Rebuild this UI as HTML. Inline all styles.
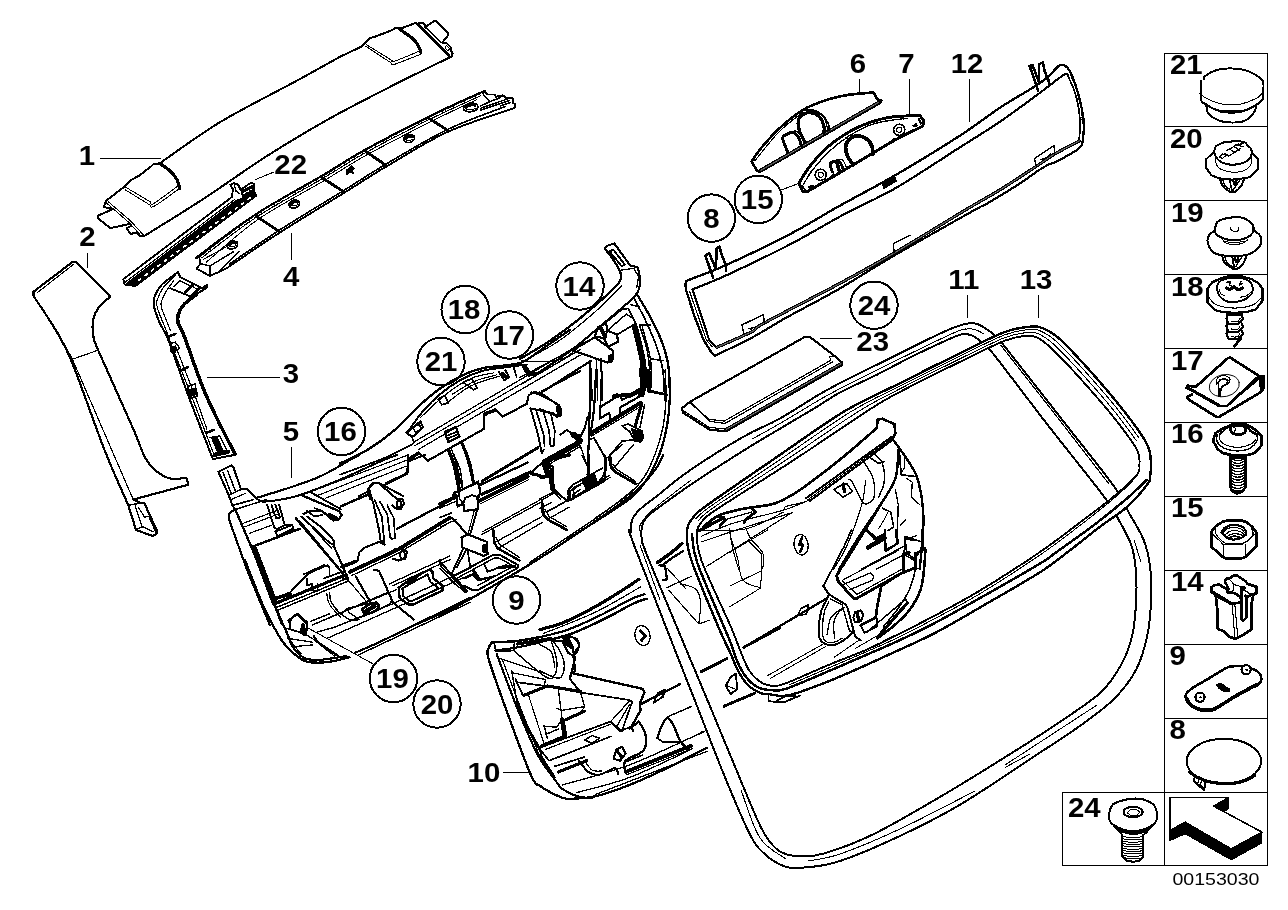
<!DOCTYPE html>
<html><head><meta charset="utf-8"><title>00153030</title>
<style>
html,body{margin:0;padding:0;background:#fff;}
svg{display:block;}
path,line,circle,rect,ellipse,polyline,polygon{stroke-linecap:round;stroke-linejoin:round;}
</style></head>
<body>
<svg width="1288" height="910" viewBox="0 0 1288 910" shape-rendering="crispEdges">
<rect x="0" y="0" width="1288" height="910" fill="#fff" stroke="none"/>
<g id="base">
<g fill="none" stroke="#000" stroke-width="1">
<rect x="1164.5" y="53.5" width="103.0" height="812.0"/>
<line x1="1164.5" y1="126.5" x2="1267.5" y2="126.5"/>
<line x1="1164.5" y1="200.5" x2="1267.5" y2="200.5"/>
<line x1="1164.5" y1="274.5" x2="1267.5" y2="274.5"/>
<line x1="1164.5" y1="348.5" x2="1267.5" y2="348.5"/>
<line x1="1164.5" y1="422.5" x2="1267.5" y2="422.5"/>
<line x1="1164.5" y1="496.5" x2="1267.5" y2="496.5"/>
<line x1="1164.5" y1="570.5" x2="1267.5" y2="570.5"/>
<line x1="1164.5" y1="644.5" x2="1267.5" y2="644.5"/>
<line x1="1164.5" y1="718.5" x2="1267.5" y2="718.5"/>
<line x1="1164.5" y1="792.5" x2="1267.5" y2="792.5"/>
<rect x="1062.5" y="792.5" width="102" height="73"/>
</g>
<g font-family='"Liberation Sans", Arial, Helvetica, sans-serif' fill="#000" opacity="0.999">
<text transform="translate(1170 74.4) scale(1.09 1)" font-size="27" font-weight="bold">21</text>
<text transform="translate(1170 148.2) scale(1.09 1)" font-size="27" font-weight="bold">20</text>
<text transform="translate(1170.9 222.2) scale(1.09 1)" font-size="27" font-weight="bold">19</text>
<text transform="translate(1170.9 296.2) scale(1.09 1)" font-size="27" font-weight="bold">18</text>
<text transform="translate(1170.9 370.2) scale(1.09 1)" font-size="27" font-weight="bold">17</text>
<text transform="translate(1170.9 443.2) scale(1.09 1)" font-size="27" font-weight="bold">16</text>
<text transform="translate(1170.9 517.2) scale(1.09 1)" font-size="27" font-weight="bold">15</text>
<text transform="translate(1170.9 591.2) scale(1.09 1)" font-size="27" font-weight="bold">14</text>
<text transform="translate(1169.5 665.2) scale(1.09 1)" font-size="27" font-weight="bold">9</text>
<text transform="translate(1169.5 739.2) scale(1.09 1)" font-size="27" font-weight="bold">8</text>
<text transform="translate(1068 817.4) scale(1.09 1)" font-size="27" font-weight="bold">24</text>
<text transform="translate(87 165.2) scale(1.09 1)" text-anchor="middle" font-size="27" font-weight="bold">1</text>
<text transform="translate(290.7 173.7) scale(1.09 1)" text-anchor="middle" font-size="27" font-weight="bold">22</text>
<text transform="translate(87.5 246.2) scale(1.09 1)" text-anchor="middle" font-size="27" font-weight="bold">2</text>
<text transform="translate(291.2 286.2) scale(1.09 1)" text-anchor="middle" font-size="27" font-weight="bold">4</text>
<text transform="translate(291 382.7) scale(1.09 1)" text-anchor="middle" font-size="27" font-weight="bold">3</text>
<text transform="translate(291 441.2) scale(1.09 1)" text-anchor="middle" font-size="27" font-weight="bold">5</text>
<text transform="translate(858 72.7) scale(1.09 1)" text-anchor="middle" font-size="27" font-weight="bold">6</text>
<text transform="translate(906.5 72.7) scale(1.09 1)" text-anchor="middle" font-size="27" font-weight="bold">7</text>
<text transform="translate(967.1 72.7) scale(1.09 1)" text-anchor="middle" font-size="27" font-weight="bold">12</text>
<text transform="translate(963.9 288.7) scale(1.09 1)" text-anchor="middle" font-size="27" font-weight="bold">11</text>
<text transform="translate(1036.1 288.7) scale(1.09 1)" text-anchor="middle" font-size="27" font-weight="bold">13</text>
<text transform="translate(872.7 351.2) scale(1.09 1)" text-anchor="middle" font-size="27" font-weight="bold">23</text>
<text transform="translate(483.9 782) scale(1.09 1)" text-anchor="middle" font-size="27" font-weight="bold">10</text>
<text transform="translate(578.9 295.5) scale(1.09 1)" text-anchor="middle" font-size="27" font-weight="bold">14</text>
<text transform="translate(464.1 319) scale(1.09 1)" text-anchor="middle" font-size="27" font-weight="bold">18</text>
<text transform="translate(508.4 344.5) scale(1.09 1)" text-anchor="middle" font-size="27" font-weight="bold">17</text>
<text transform="translate(441 371) scale(1.09 1)" text-anchor="middle" font-size="27" font-weight="bold">21</text>
<text transform="translate(340.4 441) scale(1.09 1)" text-anchor="middle" font-size="27" font-weight="bold">16</text>
<text transform="translate(711.4 227.6) scale(1.09 1)" text-anchor="middle" font-size="27" font-weight="bold">8</text>
<text transform="translate(757.2 208.9) scale(1.09 1)" text-anchor="middle" font-size="27" font-weight="bold">15</text>
<text transform="translate(874 314.7) scale(1.09 1)" text-anchor="middle" font-size="27" font-weight="bold">24</text>
<text transform="translate(516.5 609.5) scale(1.09 1)" text-anchor="middle" font-size="27" font-weight="bold">9</text>
<text transform="translate(392.4 688) scale(1.09 1)" text-anchor="middle" font-size="27" font-weight="bold">19</text>
<text transform="translate(437 713.5) scale(1.09 1)" text-anchor="middle" font-size="27" font-weight="bold">20</text>
<text x="1172.5" y="885" font-size="17.3" textLength="87" lengthAdjust="spacingAndGlyphs">00153030</text>
</g>
<g fill="none" stroke="#000" stroke-width="1.3">
<circle cx="580" cy="286" r="23.7" stroke-width="2"/>
<circle cx="465.2" cy="309.5" r="23.7" stroke-width="2"/>
<circle cx="509.5" cy="335" r="23.7" stroke-width="2"/>
<circle cx="441" cy="361.5" r="23.7" stroke-width="2"/>
<circle cx="341.5" cy="431.5" r="23.7" stroke-width="2"/>
<circle cx="711.4" cy="218.1" r="23.7" stroke-width="2"/>
<circle cx="758.3" cy="199.4" r="23.7" stroke-width="2"/>
<circle cx="874" cy="305.2" r="23.7" stroke-width="2"/>
<circle cx="516.5" cy="600" r="23.7" stroke-width="2"/>
<circle cx="393.5" cy="678.5" r="23.7" stroke-width="2"/>
<circle cx="437" cy="704" r="23.7" stroke-width="2"/>
</g>
<g fill="none" stroke="#000" stroke-width="1">
<line x1="100" y1="158.5" x2="160.5" y2="158.5"/>
<line x1="255.5" y1="179.5" x2="274" y2="172"/>
<line x1="87.5" y1="253" x2="87.5" y2="268"/>
<line x1="291.5" y1="233" x2="291.5" y2="260"/>
<line x1="207" y1="377" x2="280" y2="377"/>
<line x1="291" y1="447" x2="291" y2="478"/>
<line x1="859.5" y1="79" x2="859.5" y2="93"/>
<line x1="909.5" y1="79" x2="909.5" y2="115"/>
<line x1="969.5" y1="79" x2="969.5" y2="122"/>
<line x1="967.5" y1="295" x2="967.5" y2="318"/>
<line x1="1038" y1="295" x2="1038" y2="318"/>
<line x1="820" y1="338" x2="852" y2="338"/>
<line x1="503" y1="772.5" x2="530" y2="772.5"/>
<line x1="781" y1="190" x2="800" y2="183"/>
<line x1="375" y1="665" x2="308" y2="628"/>
</g>
</g>
<g id="p01">
<path d="M159.5 163.5C169.6 156.6 196.8 136.2 219.8 122.3C242.8 108.5 277.4 91.3 297.4 80.4C317.4 69.5 332.9 60.7 340 56.8" fill="none" stroke="#000" stroke-width="2.03"/>
<path d="M144 236.2C154 229.9 183.8 211.7 204.2 198.4C224.6 185.1 245.6 169.6 266.3 156.4C287 143.2 307.7 130.8 328.4 119.2C349.1 107.6 370.5 96.9 390.6 86.6C410.8 76.3 439.5 62.4 449.3 57.6" fill="none" stroke="#000" stroke-width="2.03"/>
<path d="M159.6 163.5L153.4 164.2L150.9 166.6L139.7 175.3L137.2 176.6L129.8 180.9L125.4 185.9L106.8 200.2L105.2 203.3L103.7 207L109.9 208.3L113 208.9L98.1 215.7L97.7 218.2L110.5 228.1L130.4 223.8L131.2 225.9L126.6 228.1L130.4 233.7L136.6 233.1L139.1 235.6L144 236.2" fill="none" stroke="#000" stroke-width="2.03"/>
<path d="M108.6 202L131 221.3L144 235.6" fill="none" stroke="#000" stroke-width="1.01"/>
<path d="M106.8 203.3L129.8 223.2L140.9 235.8" fill="none" stroke="#000" stroke-width="1.01"/>
<path d="M159.6 163.5C161.2 164.7 166.6 167.7 169.5 170.4C172.4 173.1 175.3 176.7 177 179.7C178.7 182.7 179.2 186.9 179.7 188.4" fill="none" stroke="#000" stroke-width="3.19"/>
<path d="M179.7 188.4C175.5 191.3 159.6 203.3 154.6 206C149.6 208.8 150.5 205 149.6 204.8L125.4 189.9" fill="none" stroke="#000" stroke-width="1.01"/>
<path d="M177.2 186.5C173.3 189.3 158.4 200.7 154 203.3C149.6 205.9 151.4 202.5 150.9 202.3L126 187.4" fill="none" stroke="#000" stroke-width="1.01"/>
<path d="M340 56.8L361.8 46.4L370.5 37.7L373.7 37.2L392.2 30.1L394.9 27.9L398.2 27.9L400.9 28.5L415.1 23.1L417.8 23.6L420.5 22.8L424.3 23.6L425.1 26.9L434.6 20.9L436.3 20.9L448.2 32.8L448.2 35L442.3 42.6L446.1 42.6L451 47.5L451 50.8L452.6 53.5L452 56.2L449.3 57.9" fill="none" stroke="#000" stroke-width="2.03"/>
<path d="M417.8 24.1L449.3 56.2" fill="none" stroke="#000" stroke-width="2.9"/>
<path d="M425.1 26.9L441.2 42.6" fill="none" stroke="#000" stroke-width="1.74"/>
<path d="M399.3 29C401.6 30.7 409.7 36 412.9 38.8C416.1 41.6 417.1 43.8 418.3 45.9C419.6 48 420.1 50.4 420.5 51.3" fill="none" stroke="#000" stroke-width="3.19"/>
<path d="M421 51.9L421 54.1C416.6 55.8 399.3 62.8 394.4 64.4C389.5 65.9 392.1 63.5 391.7 63.3L365.6 46.1" fill="none" stroke="#000" stroke-width="1.01"/>
<path d="M419.1 51.3C415 53 398.9 59.8 394.4 61.3C389.9 62.9 392.6 60.7 392.2 60.6L366.7 44.8" fill="none" stroke="#000" stroke-width="1.01"/>
<ellipse cx="447.1" cy="48.1" rx="1.6" ry="2.4" fill="#fff" stroke="#000" stroke-width="1" transform="rotate(-40 447.1 48.1)"/>
</g>
<g id="p02">
<path d="M123.2 279.3L231.9 197L233 189.5L230.3 184.8L234.2 183L238.1 184.8L240.7 189.8L246.6 185.6L250.5 183L253.6 183.6L253.9 191.8L256 194.9L134.8 285L124.8 284.5Z" fill="#fff" stroke="#000" stroke-width="1.89"/>
<path d="M125.5 282L234.2 199.8" fill="none" stroke="#000" stroke-width="1.16"/>
<path d="M127.4 283L236.1 200.7L255.2 194.2L256.3 196L135.6 286.1L125.5 285.2Z" fill="#000" stroke="#000" stroke-width="1.45"/>
<path d="M138.7 280.3L250.5 197.7" fill="none" stroke="#fff" stroke-width="1.7" stroke-dasharray="2.4 5.6" stroke-linecap="butt"/>
<path d="M241.2 191.1L253.6 184.8L253.6 193.4L243.5 198.8Z" fill="#000" stroke="#000" stroke-width="1.45"/>
<path d="M243.5 193.4L251.3 189.5" fill="none" stroke="#fff" stroke-width="1.2" stroke-dasharray="2 2" stroke-linecap="butt"/>
<path d="M234.2 184.8L236.1 191.1L238.9 193.4" fill="none" stroke="#000" stroke-width="1.45"/>
<path d="M484.3 91.9L487.8 94.5L494.4 94.5L496.2 96.9L499.6 95.8L504.4 95.8L506 98L512.6 98L513.1 103.2L515.2 103.8L514.7 108L511.5 109C500.8 112.9 468.2 122.5 447.4 132C426.6 141.6 403.8 156.2 386.7 166.3C369.5 176.4 362.2 181.7 344.4 192.7C326.6 203.8 299.3 220 279.8 232.6C260.2 245.1 235.8 262.1 227 268L219 271.9L209.8 275.9L196.6 268.7L200.6 263.5L199.2 256.9C199.5 256.4 191.1 261.4 200.6 254.2C210 247.1 235.8 227.2 256 214.1C276.2 201 303.7 186.3 322 175.6C340.2 164.8 347.7 159.3 365.5 149.4C383.4 139.6 410 125.8 428.9 116.4C447.8 107.1 469.8 97.3 479.1 93.2C488.3 89.1 483.5 92.1 484.3 91.9Z" fill="#fff" stroke="#000" stroke-width="1.89"/>
<path d="M201.9 256.3C210.9 249.6 236 229.3 256 216.2C276 203.1 303.7 188.4 322 177.7C340.2 166.9 347.7 161.4 365.5 151.5C383.4 141.7 410 127.9 428.9 118.5C447.8 109.2 470.7 99.2 479.1 95.3" fill="none" stroke="#000" stroke-width="3.19"/>
<path d="M201.9 256.3C210.9 249.6 236 229.3 256 216.2C276 203.1 303.7 188.4 322 177.7C340.2 166.9 347.7 161.4 365.5 151.5C383.4 141.7 410 127.9 428.9 118.5C447.8 109.2 470.7 99.2 479.1 95.3" fill="none" stroke="#fff" stroke-width="1.2" stroke-dasharray="1.5 1.5" stroke-linecap="butt"/>
<path d="M206.4 262.1C214.9 255.1 237.9 233.4 257.3 219.9C276.7 206.4 304.6 192.1 322.8 181.4C340.9 170.6 348.5 165.1 366.3 155.2C384.2 145.4 411.3 131.5 429.7 122.2C448 113 468.6 103.5 476.4 99.8" fill="none" stroke="#000" stroke-width="1.01"/>
<path d="M229.6 264C238 258.3 260.6 242.3 279.8 229.9C298.9 217.6 326.6 201.1 344.4 190.1C362.2 179 369.5 173.8 386.7 163.7C403.8 153.6 427.6 139.2 447.4 129.6C467.2 120.1 495.8 110.3 505.5 106.4" fill="none" stroke="#000" stroke-width="1.59"/>
<path d="M256 215.9L279.8 231.8" fill="none" stroke="#000" stroke-width="2.9"/>
<path d="M322 177.7L344.4 192.2" fill="none" stroke="#000" stroke-width="2.9"/>
<path d="M365.5 151.3L386.7 165.8" fill="none" stroke="#000" stroke-width="2.9"/>
<path d="M428.9 118.3L447.4 130.2" fill="none" stroke="#000" stroke-width="2.9"/>
<ellipse cx="232.2" cy="245" rx="5.4" ry="3.8" fill="#fff" stroke="#000" stroke-width="1.7" transform="rotate(-15 232.2 245)"/>
<path d="M227.2 244.5 q4 -6 10 -2.5 l-1.5 2 q-3.5 -1.5 -6 1.5z" fill="#000" stroke="#000" stroke-width="1.2"/>
<path d="M228.2 245.8 q4 2.5 8 -0.5" fill="none" stroke="#000" stroke-width="1"/>
<ellipse cx="294.3" cy="204.1" rx="5.4" ry="3.8" fill="#fff" stroke="#000" stroke-width="1.7" transform="rotate(-15 294.3 204.1)"/>
<path d="M289.3 203.6 q4 -6 10 -2.5 l-1.5 2 q-3.5 -1.5 -6 1.5z" fill="#000" stroke="#000" stroke-width="1.2"/>
<path d="M290.3 204.9 q4 2.5 8 -0.5" fill="none" stroke="#000" stroke-width="1"/>
<ellipse cx="409.1" cy="138.6" rx="5.4" ry="3.8" fill="#fff" stroke="#000" stroke-width="1.7" transform="rotate(-15 409.1 138.6)"/>
<path d="M404.1 138.1 q4 -6 10 -2.5 l-1.5 2 q-3.5 -1.5 -6 1.5z" fill="#000" stroke="#000" stroke-width="1.2"/>
<path d="M405.1 139.4 q4 2.5 8 -0.5" fill="none" stroke="#000" stroke-width="1"/>
<path d="M346.7 169.8 l5 -4 l3 3 l-3 1 l2 4 l-4 -2 l-3 3 l0 -4z" fill="#000" stroke="#000" stroke-width="1"/>
<path d="M482.7 91.8L483.8 95.6L490.3 101.5L480.5 105.9" fill="none" stroke="#000" stroke-width="1.59"/>
<path d="M490.3 101.5L500.1 97.7L502.8 94.8" fill="none" stroke="#000" stroke-width="1.59"/>
<path d="M480.5 108.3L508.8 98.5" fill="none" stroke="#000" stroke-width="1.45"/>
<path d="M481 110L509.3 100.5" fill="none" stroke="#000" stroke-width="1.45"/>
<path d="M510.1 102.6L500.1 106.1" fill="none" stroke="#000" stroke-width="1.45"/>
<ellipse cx="470.7" cy="107.5" rx="7.4" ry="4.2" fill="#fff" stroke="#000" stroke-width="1.7" transform="rotate(-8 470.7 107.5)"/>
<path d="M463.7 107 q5 -6 13 -3 l-1.5 2.2 q-5 -1.5 -9 2z" fill="#000" stroke="#000" stroke-width="1.2"/>
<path d="M465.2 108.5 q5 3 11 -0.5" fill="none" stroke="#000" stroke-width="1"/>
<path d="M200.6 263.5L209.8 266.1L233.6 251.6" fill="none" stroke="#000" stroke-width="1.45"/>
<path d="M209.8 266.1L209.8 275.9" fill="none" stroke="#000" stroke-width="1.45"/>
<path d="M203.2 259.5L229.6 245" fill="none" stroke="#000" stroke-width="1.16"/>
<path d="M219 271.9L238.8 251.6" fill="none" stroke="#000" stroke-width="1.45"/>
</g>
<g id="p03">
<path d="M33.5 296L33.5 291.7L72.8 261.8L76.2 262.2L109.5 295.1L109.5 297.2C107.7 299 101.1 304.4 98.4 308C95.7 311.6 94.2 314.6 93.3 319.1C92.4 323.7 92.4 330 93.3 335.3C94.2 340.6 91.7 335.1 98.4 350.7C105.1 366.3 125.6 411.3 133.4 429.2C141.2 447.1 141.4 451.1 145.4 458.2C149.4 465.3 153.1 468.5 157.4 471.9C161.7 475.3 166.2 477.7 171 478.7C175.8 479.7 183.8 477.9 186.4 477.8L188.4 484.7L133.4 499.5L140.3 502.6L144.5 503.5L156.5 529.9L156.5 534.2L152.2 535.9L136 529.9L128.3 505.2C124.3 495.9 113.7 473.2 104.4 449.7C95.2 426.2 80.9 384.2 72.8 364.3C64.7 344.4 62.2 341.6 55.7 330.2C49.2 318.8 37.2 301.7 33.5 296Z" fill="#fff" stroke="#000" stroke-width="2.17"/>
<path d="M37 292.9L73.7 264.2" fill="none" stroke="#000" stroke-width="1.16"/>
<path d="M56.6 330.2L72 358.3" fill="none" stroke="#000" stroke-width="1.16"/>
<path d="M72 358.3L133.4 500" fill="none" stroke="#000" stroke-width="1.16"/>
<path d="M72.5 359.2L96.7 350.7" fill="none" stroke="#000" stroke-width="1.16"/>
<path d="M128.3 505.2L133.4 504.3L143.7 502.6" fill="none" stroke="#000" stroke-width="1.45"/>
<path d="M136 529.9L142 526.5L153.1 531.6" fill="none" stroke="#000" stroke-width="1.45"/>
<path d="M142 526.5L135.2 506" fill="none" stroke="#000" stroke-width="1.45"/>
<path d="M144.5 517.1L148.8 516.3L154.8 529.9" fill="none" stroke="#000" stroke-width="1.45"/>
<path d="M138.6 507.7L144.5 517.1" fill="none" stroke="#000" stroke-width="1.16"/>
<path d="M177.9 272.1C175.2 274.2 165.4 280.9 161.6 284.9C157.8 288.9 156.1 292.4 154.8 296C153.5 299.6 153.2 301.6 154 306.2C154.8 310.8 157.5 317.6 159.9 323.3C162.3 329 163.8 328.4 168.5 340.4C173.2 352.3 180.7 375.2 188.1 395C195.5 414.8 208.8 448.4 212.9 459.1L235.1 454.8C230.2 444.8 214.5 414.9 206 395C197.5 375.1 188.5 347.2 183.9 335.3C179.3 323.4 179.2 326.7 178.2 323.3C177.2 319.9 177.2 317.7 177.9 314.8C178.6 311.9 180.2 308.8 182.1 306.2C183.9 303.6 184.9 302.5 189 299.4C193.1 296.3 203.9 289.5 206.9 287.5L206.9 284.9L202.6 288.3L180.4 277.2L177.9 272.1Z" fill="#fff" stroke="#000" stroke-width="2.03"/>
<path d="M235.1 454.4C230.2 444.5 214.5 414.9 206 395C197.5 375.1 188.5 347.2 183.9 335.3C179.3 323.4 179.1 326.7 178.2 323.3C177.2 319.9 177.5 317.7 178.2 314.8C178.9 311.9 180.7 308.7 182.5 306.2C184.3 303.7 187.1 301.6 189.3 299.8C191.5 298 194.7 295.9 195.8 295.1" fill="none" stroke="#000" stroke-width="3.48"/>
<path d="M175.3 275.5C173.3 277.5 166.3 283.5 163.4 287.5C160.4 291.4 158.4 296 157.4 299.4C156.4 302.8 155.8 302.5 157.4 308C158.9 313.4 164.5 325.9 166.8 331.9C169 337.8 170.3 341.8 171 343.8" fill="none" stroke="#000" stroke-width="1.16"/>
<path d="M173.6 280.6C172.2 282.6 167.4 289.2 165.4 292.6C163.4 296 162.3 298.6 161.6 301.1C161 303.7 160.2 303.1 161.6 308C163.1 312.8 168.8 326.5 170.2 330.2" fill="none" stroke="#000" stroke-width="1.16"/>
<path d="M171 343.8L192.4 398.4L213.7 453.9" fill="none" stroke="#000" stroke-width="1.16"/>
<path d="M175.3 345.5L196.6 400.1L206.9 429.2" fill="none" stroke="#000" stroke-width="1.16"/>
<path d="M170.2 288.3L191.5 296.8L206.9 287.5" fill="none" stroke="#000" stroke-width="1.74"/>
<path d="M173.6 286.6L179.6 280.6L197.5 289.2L191.5 295.1" fill="none" stroke="#000" stroke-width="1.16"/>
<path d="M185.6 291.7L193.2 284.9" fill="none" stroke="#000" stroke-width="2.9"/>
<path d="M193.2 293.9L199.2 288.3" fill="none" stroke="#000" stroke-width="2.9"/>
<path d="M167.6 337L175.3 333.9" fill="none" stroke="#000" stroke-width="2.61"/>
<path d="M169.3 343.8L175.3 342.1L179.6 348.1L175.3 350.7" fill="none" stroke="#000" stroke-width="1.45"/>
<path d="M170.2 348.1L175.3 346.4L175.3 352.4L171.6 352.7Z" fill="#000" stroke="#000" stroke-width="1.45"/>
<path d="M181.3 370.3L188.1 367.2" fill="none" stroke="#000" stroke-width="2.61"/>
<path d="M187.3 386.5L195 384L197.5 395.9L189.8 398.5Z" fill="none" stroke="#000" stroke-width="1.45"/>
<path d="M189 389.9L195.8 388.2L196.7 394.2L190.3 395.9Z" fill="#000" stroke="#000" stroke-width="1.45"/>
<path d="M206 432.9L213.7 430" fill="none" stroke="#000" stroke-width="2.61"/>
<path d="M209.5 437.7L219.7 436L228.2 453.1L213.7 456.1" fill="none" stroke="#000" stroke-width="1.45"/>
<path d="M212 437.7L218 451.4" fill="none" stroke="#000" stroke-width="2.32"/>
<path d="M214.4 437.7L220.4 451.4" fill="none" stroke="#000" stroke-width="2.32"/>
<path d="M216.8 437.7L222.8 451.4" fill="none" stroke="#000" stroke-width="2.32"/>
<path d="M214.6 454.8L228.2 451.7" fill="none" stroke="#000" stroke-width="4.35"/>
</g>
<g id="p05a">
<path d="M218.4 471.8L231.5 465.3L233.3 467.1L240.8 488.6L246.4 488.6L256.7 498.9" fill="none" stroke="#000" stroke-width="2.03"/>
<path d="M218.4 471.8L228.7 495.2L232.4 505.4L235.2 509.2" fill="none" stroke="#000" stroke-width="2.03"/>
<path d="M223.1 472.7L231.5 494.2" fill="none" stroke="#000" stroke-width="1.45"/>
<path d="M227.7 470.9L235.2 490.5" fill="none" stroke="#000" stroke-width="1.45"/>
<path d="M228.7 495.2L240.8 489.6" fill="none" stroke="#000" stroke-width="1.45"/>
<path d="M232.4 505.4L253 499.8" fill="none" stroke="#000" stroke-width="1.74"/>
<path d="M230.5 499.8L245.5 493.3" fill="none" stroke="#000" stroke-width="1.16"/>
<path d="M235.2 509.2L229.6 512.9L228.7 518.5L247.4 570.8L269.8 625" fill="none" stroke="#000" stroke-width="2.17"/>
<path d="M235.2 509.2L256.7 559.6L281.9 624" fill="none" stroke="#000" stroke-width="2.32"/>
<path d="M254.8 548.4L275.4 602.5" fill="none" stroke="#000" stroke-width="4.64"/>
<path d="M252 549.3L272.6 604.4" fill="none" stroke="#000" stroke-width="1.16"/>
<path d="M257.6 497.6C263.4 495.8 281.4 490.4 292.2 486.8C302.9 483.1 311.8 480.4 322.1 475.5C332.3 470.7 347.6 461.2 353.8 457.8C360 454.4 358.5 455.5 359.4 455" fill="none" stroke="#000" stroke-width="2.17"/>
<path d="M262.3 501.7C264.2 501.5 267.3 501.8 273.5 500.8C279.7 499.7 288.4 498.7 299.6 495.2C310.9 491.6 327.7 484.7 340.7 479.3C353.8 473.8 368.8 466.5 378.1 462.5C387.4 458.4 393.7 456.2 396.8 455" fill="none" stroke="#000" stroke-width="2.03"/>
<path d="M256.7 498.9L262.3 501.7" fill="none" stroke="#000" stroke-width="1.89"/>
<path d="M301.5 495.2L408 455" fill="none" stroke="#000" stroke-width="1.16"/>
<path d="M318.3 495.2L408 459.7" fill="none" stroke="#000" stroke-width="1.16"/>
<path d="M325.8 498L406.1 466.2" fill="none" stroke="#000" stroke-width="1.16"/>
<path d="M408 455L408 471.8L404.2 474.6L385.6 483" fill="none" stroke="#000" stroke-width="1.89"/>
<path d="M408 461.5L424.8 455" fill="none" stroke="#000" stroke-width="1.89"/>
<path d="M243.6 523.2L275.4 511" fill="none" stroke="#000" stroke-width="1.16"/>
<path d="M244.6 526.9L277.2 514.4" fill="none" stroke="#000" stroke-width="1.16"/>
<path d="M249.2 533.4L273.5 524.5" fill="none" stroke="#000" stroke-width="1.16"/>
<path d="M253 546.5L299.6 528.8" fill="none" stroke="#000" stroke-width="2.46"/>
<path d="M340.7 506.4L368.8 494.2" fill="none" stroke="#000" stroke-width="2.46"/>
<path d="M236.1 509.2L266 499.8" fill="none" stroke="#000" stroke-width="1.45"/>
<path d="M267 504.5L274.4 527.8L277.2 528.8L284.7 525L279.1 504.5" fill="none" stroke="#000" stroke-width="1.89"/>
<path d="M271.6 505.4L276.3 518.5L280 517.6L275.4 504.5" fill="none" stroke="#000" stroke-width="1.89"/>
<path d="M275.4 531.6L292.2 525L293.1 528.8L277.2 536.2Z" fill="none" stroke="#000" stroke-width="1.89"/>
<path d="M277.2 528.8L275.4 531.6" fill="none" stroke="#000" stroke-width="1.74"/>
<path d="M284.7 525L292.2 525" fill="none" stroke="#000" stroke-width="1.74"/>
<path d="M301.5 495.2L338.9 511L341.7 514.8L338.9 519.4L333.3 520.4L322.1 511L310.9 511L303.4 513.8" fill="none" stroke="#000" stroke-width="2.32"/>
<path d="M310.9 492.4L340.7 509.2" fill="none" stroke="#000" stroke-width="1.89"/>
<path d="M307.1 511L314.6 516.6L322.1 514.8" fill="none" stroke="#000" stroke-width="1.74"/>
<path d="M314.6 508.2L322.1 511" fill="none" stroke="#000" stroke-width="1.74"/>
<path d="M329.5 514.8L337 518.5" fill="none" stroke="#000" stroke-width="3.62"/>
<path d="M295.9 518.5L340.7 570.8L348.2 580.1" fill="none" stroke="#000" stroke-width="2.46"/>
<path d="M301.5 516.6L329.5 542.8L333.3 544.6L348.2 579.2" fill="none" stroke="#000" stroke-width="2.03"/>
<path d="M299.6 520.4L344.5 574.5" fill="none" stroke="#000" stroke-width="1.16"/>
<path d="M305.3 519.4L331.4 548.4" fill="none" stroke="#000" stroke-width="1.45"/>
<path d="M307.1 516.6L322.1 527.8L331.4 537.2L334.2 541.8L333.3 546.5" fill="none" stroke="#000" stroke-width="1.89"/>
<path d="M348.2 580.1L338.9 576.4" fill="none" stroke="#000" stroke-width="1.89"/>
<path d="M368.8 488.6L372.5 483.9L378.1 482.6L396.8 498.9L402.4 498.9L404.2 503.6L400.5 509.2L394.9 508.2L392.1 505.4" fill="none" stroke="#000" stroke-width="2.03"/>
<path d="M368.8 488.6L373.4 503.6L379 529.7L380.9 542.8L384.6 544.6" fill="none" stroke="#000" stroke-width="2.03"/>
<path d="M374.4 499.8L381.8 516.6L384.6 544.6" fill="none" stroke="#000" stroke-width="1.74"/>
<path d="M380 501.7L387.4 514.8L390.2 537.2" fill="none" stroke="#000" stroke-width="1.74"/>
<path d="M387.4 505.4L394 518.5L394.9 538.1L392.1 539L390.2 537.2" fill="none" stroke="#000" stroke-width="1.74"/>
<ellipse cx="399" cy="503.9" rx="2.4" ry="3.4" fill="#fff" stroke="#000" stroke-width="1.8"/>
<path d="M340.7 567.1L357.5 560.5L359.4 552.1L365 547.5L381.8 540.9" fill="none" stroke="#000" stroke-width="2.03"/>
<path d="M396.8 528.8L450 500.8" fill="none" stroke="#000" stroke-width="2.32"/>
<path d="M343.5 566.1L355.7 561.5" fill="none" stroke="#000" stroke-width="3.62"/>
<path d="M275.4 598.8L290.3 592.3L297.8 583.9L303.4 578.3L307.1 574.5L322.1 567.1L327.7 565.2" fill="none" stroke="#000" stroke-width="2.03"/>
<path d="M303.4 574.5L323.9 565.2L329.5 567.1L329.5 576.4L323.9 578.3" fill="none" stroke="#000" stroke-width="1.74"/>
<path d="M307.1 585.7L311.8 583.9L311.8 590.4L317.4 591.3L317.4 583.9" fill="none" stroke="#000" stroke-width="1.74"/>
<path d="M307.1 578.3L307.1 585.7" fill="none" stroke="#000" stroke-width="1.74"/>
<path d="M329.5 576.4L344.5 570.8" fill="none" stroke="#000" stroke-width="1.74"/>
<path d="M273.5 598.8L290.3 594.1" fill="none" stroke="#000" stroke-width="3.62"/>
<path d="M275.4 603.5L346.3 574.5" fill="none" stroke="#000" stroke-width="3.19"/>
<path d="M277.2 607.2L347.3 578.3" fill="none" stroke="#000" stroke-width="1.45"/>
<path d="M278.2 610L348.2 581.1" fill="none" stroke="#000" stroke-width="1.45"/>
<path d="M350.1 571.7L396.8 550.3L450 517.6" fill="none" stroke="#000" stroke-width="3.77"/>
<path d="M351.9 575.5L396.8 554L450 522.2" fill="none" stroke="#000" stroke-width="1.3"/>
<path d="M353.8 568.9L394.9 549.3" fill="none" stroke="#000" stroke-width="1.16"/>
<path d="M387.4 555.9L394.9 549.3L402.4 548.4L407 552.1L405.2 558.7L398.6 560.5L393 558.7" fill="none" stroke="#000" stroke-width="2.03"/>
<ellipse cx="402.4" cy="554.9" rx="2.6" ry="3.6" fill="#fff" stroke="#000" stroke-width="1.6"/>
<path d="M329.5 592.3C329.8 594 329.5 599 331.4 602.5C333.3 606.1 337.3 610.8 340.7 613.8C344.2 616.7 348.8 619.4 351.9 620.3C355.1 621.2 358.2 619.5 359.4 619.4" fill="none" stroke="#000" stroke-width="1.45"/>
<path d="M326.7 593.2C327.2 595.1 327.2 600.4 329.5 604.4C331.9 608.5 338.9 615.3 340.7 617.5" fill="none" stroke="#000" stroke-width="1.16"/>
<path d="M374.4 569.9L379 570.8L393 602.5L413.6 619.4" fill="none" stroke="#000" stroke-width="2.17"/>
<path d="M355.7 576.4L370.6 602.5" fill="none" stroke="#000" stroke-width="2.17"/>
<path d="M348.2 580.1L368.8 604.4" fill="none" stroke="#000" stroke-width="1.16"/>
<path d="M340.7 613.8L348.2 608.2L372.5 602.5" fill="none" stroke="#000" stroke-width="1.74"/>
<path d="M351.9 620.3L374.4 611.9L389.3 604.4L392.1 600.7" fill="none" stroke="#000" stroke-width="1.89"/>
<path d="M348.2 611.9L359.4 619.4" fill="none" stroke="#000" stroke-width="1.45"/>
<path d="M362.2 609.1L368.8 604.4L376.2 602.5L379 605.4L377.2 610L368.8 613.8L364.1 613.8Z" fill="none" stroke="#000" stroke-width="2.61"/>
<path d="M366 611L374.4 606.3" fill="none" stroke="#000" stroke-width="4.35"/>
<path d="M398.6 587.6L408 581.1L428.5 569.9L432.3 570.8L433.2 578.3L442.5 585.7L442.5 590.4L413.6 604.4L408 604.4L399.6 597.9Z" fill="none" stroke="#000" stroke-width="2.32"/>
<path d="M402.4 588.5L409.8 583.9L427.6 574.5L430.4 582L438.8 588.5L412.6 600.7L408.9 600.7L403.3 596Z" fill="none" stroke="#000" stroke-width="2.03"/>
<path d="M408 582L415.4 577.3" fill="none" stroke="#000" stroke-width="4.35"/>
<path d="M417.3 624L450 610" fill="none" stroke="#000" stroke-width="1.89"/>
<path d="M393 585.7L450 559.6" fill="none" stroke="#000" stroke-width="1.3"/>
<path d="M389.3 583.9L450 555.9" fill="none" stroke="#000" stroke-width="1.3"/>
<path d="M314.6 624L396.8 589.5" fill="none" stroke="#000" stroke-width="1.45"/>
<path d="M310.9 621.2L329.5 613.8" fill="none" stroke="#000" stroke-width="1.45"/>
<path d="M439.7 559.6C440 560.8 439.9 564.6 441.6 567.1C443.3 569.6 448.6 573.3 450 574.5" fill="none" stroke="#000" stroke-width="1.74"/>
<path d="M290.3 624L288.4 620.3L297.8 613.8L307.1 624" fill="none" stroke="#000" stroke-width="2.03"/>
</g>
<g id="p05b">
<path d="M440 616C454.6 607.6 500.4 582.4 527.8 565.6C555.2 548.8 586.3 527.6 604.4 515.1C622.4 502.7 627.7 498.3 636.1 490.9C644.5 483.4 650.3 476.3 654.8 470.3C659.3 464.3 661.8 457.6 663.2 455" fill="none" stroke="#000" stroke-width="2.32"/>
<path d="M529.6 562.4C542.1 554.1 586.9 524.6 604.4 512.3C621.8 500.1 629.3 492.9 634.2 489" fill="none" stroke="#000" stroke-width="1.45"/>
<path d="M480.2 484.9L527.8 462.5" fill="none" stroke="#000" stroke-width="2.32"/>
<path d="M479.2 500.8L527.8 476.5" fill="none" stroke="#000" stroke-width="3.77"/>
<path d="M480.2 503.9L528.7 479.7" fill="none" stroke="#000" stroke-width="1.16"/>
<path d="M440 503.9L456.8 496.5" fill="none" stroke="#000" stroke-width="3.77"/>
<path d="M440 508.2L456.8 500.8" fill="none" stroke="#000" stroke-width="1.3"/>
<path d="M440 517.6L451.2 512.9" fill="none" stroke="#000" stroke-width="1.74"/>
<path d="M440 526.9L456.8 519.4" fill="none" stroke="#000" stroke-width="1.3"/>
<path d="M450.3 455C451.4 457.5 455.3 464 456.8 469.9C458.4 475.9 459.1 487.1 459.6 490.5" fill="none" stroke="#000" stroke-width="2.32"/>
<path d="M454 455C455 457.5 458.7 464.3 460.2 469.9C461.6 475.5 462.4 485.5 462.8 488.6" fill="none" stroke="#000" stroke-width="1.45"/>
<path d="M466.1 455C466.8 457.2 468.8 463.7 469.9 468.1C471 472.4 472.2 479 472.7 481.1" fill="none" stroke="#000" stroke-width="2.32"/>
<path d="M454.9 492.4L458.7 491.4L476.4 483L479.2 484.9L480.2 494.2L477.4 497L478.3 509.2L464.3 511L463.3 503.6L457.7 506.4L456.8 499.8Z" fill="none" stroke="#000" stroke-width="2.17"/>
<path d="M463.3 503.6L465.2 498L471.8 495.2L477.4 497" fill="none" stroke="#000" stroke-width="1.74"/>
<path d="M458.7 491.4L459.6 498.9L463.3 503.6" fill="none" stroke="#000" stroke-width="1.45"/>
<path d="M452.1 517.6L468 535.3" fill="none" stroke="#000" stroke-width="2.17"/>
<path d="M477.4 509.2L469.9 535.3" fill="none" stroke="#000" stroke-width="1.89"/>
<path d="M474.6 509.2L468 534.4" fill="none" stroke="#000" stroke-width="1.16"/>
<path d="M461.5 537.2L468 534.4L486.7 541.8L487.6 554L483.9 555.9L462.4 547.5Z" fill="none" stroke="#000" stroke-width="2.17"/>
<ellipse cx="484.8" cy="548.4" rx="2.2" ry="3.8" fill="#000" stroke="#000" stroke-width="1.6"/>
<path d="M463.3 548.4L452.1 572.7" fill="none" stroke="#000" stroke-width="1.89"/>
<path d="M466.1 550.3L456.8 567.1" fill="none" stroke="#000" stroke-width="1.74"/>
<path d="M468 552.1L469.9 565.2" fill="none" stroke="#000" stroke-width="1.74"/>
<path d="M453.1 576.4L493.2 554.9L499.8 554.9L518.4 565.2L517.5 568L477.4 590.4L471.8 589.8L464.3 585.7" fill="none" stroke="#000" stroke-width="2.03"/>
<path d="M456.8 578.3L494.2 558.1L498.8 558.1L513.8 566.1L477.4 585.7" fill="none" stroke="#000" stroke-width="1.45"/>
<path d="M440 561.5L453.1 576.4L465.2 592.3" fill="none" stroke="#000" stroke-width="2.03"/>
<path d="M440 568.9L454.9 583.9L464.3 591.3" fill="none" stroke="#000" stroke-width="1.45"/>
<path d="M451.2 574.5L466.1 591.3" fill="none" stroke="#000" stroke-width="3.48"/>
<path d="M464.3 578.3L472.7 574.5L478.3 580.1L494.2 576.4" fill="none" stroke="#000" stroke-width="2.32"/>
<path d="M484.8 565.2L487.6 571.7L505.4 565.2L514.7 567.1" fill="none" stroke="#000" stroke-width="1.89"/>
<path d="M473.6 570.8L479.2 579.2" fill="none" stroke="#000" stroke-width="3.19"/>
<path d="M497.9 568L514.7 566.1" fill="none" stroke="#000" stroke-width="2.9"/>
<path d="M493.2 528.8L494.2 542.8L497.9 548.4L519.4 560.5" fill="none" stroke="#000" stroke-width="2.46"/>
<path d="M496 537.2L499.8 544.6L519.4 557.4" fill="none" stroke="#000" stroke-width="1.3"/>
<path d="M541.8 499.8L542.7 512.9L547.4 519.4L567 529.7" fill="none" stroke="#000" stroke-width="2.46"/>
<path d="M544.6 509.2L549.3 516.6L567 526.9" fill="none" stroke="#000" stroke-width="1.3"/>
<path d="M609 456.9L610.9 466.2L615.6 471.8L635.2 483.9" fill="none" stroke="#000" stroke-width="2.46"/>
<path d="M612.8 464.3L617.4 469.9L635.2 481.1" fill="none" stroke="#000" stroke-width="1.3"/>
<path d="M482 534.4L541.8 501.7" fill="none" stroke="#000" stroke-width="1.3"/>
<path d="M494.2 542.8L541.8 516.6" fill="none" stroke="#000" stroke-width="1.3"/>
<path d="M497.9 548.4L542.7 522.2" fill="none" stroke="#000" stroke-width="1.3"/>
<path d="M541.8 499.8L555.8 492.4" fill="none" stroke="#000" stroke-width="1.3"/>
<path d="M547.4 511L570.7 498.9" fill="none" stroke="#000" stroke-width="1.3"/>
<path d="M547.4 519.4L568.9 507.3" fill="none" stroke="#000" stroke-width="1.3"/>
<path d="M483 531.6L541.8 498.9" fill="none" stroke="#000" stroke-width="1.3"/>
<path d="M570.7 498.9L609 475.5" fill="none" stroke="#000" stroke-width="1.3"/>
<path d="M604.4 481.1L610 477.4" fill="none" stroke="#000" stroke-width="1.3"/>
<path d="M530.6 472.7L543.7 461.5L550.2 464.3L552.1 488.6L567 500.8L570.7 499.8L604.4 481.1L605.3 473.7L606.2 458.7L604.4 455" fill="none" stroke="#000" stroke-width="2.03"/>
<path d="M543.7 461.5L547.4 477.4L530.6 472.7" fill="none" stroke="#000" stroke-width="2.17"/>
<path d="M544.6 466.2L548.3 475.5" fill="none" stroke="#000" stroke-width="4.35"/>
<path d="M552.1 465.3L554.3 488.6" fill="none" stroke="#000" stroke-width="1.3"/>
<path d="M568.9 499.8L567.9 490.5L572.6 484.9L589.4 475.5L602.5 468.1" fill="none" stroke="#000" stroke-width="1.74"/>
<path d="M570.7 498.9L570.7 491.4L574.5 487.1L589.4 479.3" fill="none" stroke="#000" stroke-width="1.3"/>
<path d="M544.6 460.6L568.9 455" fill="none" stroke="#000" stroke-width="3.77"/>
<path d="M589.4 455L589.4 473.7" fill="none" stroke="#000" stroke-width="1.89"/>
<path d="M581.9 455L587.5 466.2" fill="none" stroke="#000" stroke-width="1.16"/>
<path d="M604.4 455L605.3 473.7" fill="none" stroke="#000" stroke-width="1.74"/>
</g>
<g id="p05c">
<path d="M244.9 560C248.1 567.8 257.7 593.6 263.6 606.7C269.5 619.8 275.8 631 280.4 638.4C285.1 645.9 287.6 647.8 291.6 651.5C295.7 655.3 300.4 659 304.7 660.9C309.1 662.7 312.8 662.7 317.8 662.7C322.8 662.7 329.3 661.8 334.6 660.9C339.9 659.9 347 657.7 349.5 657.1" fill="none" stroke="#000" stroke-width="2.32"/>
<path d="M258 560C260.8 567.5 270.2 593 274.8 604.8C279.5 616.7 282.9 623.8 286 631C289.1 638.1 290.4 643.3 293.5 647.8C296.6 652.3 300.4 656 304.7 658.1C309.1 660.1 312.8 660.2 319.6 659.9C326.5 659.6 341.4 656.8 345.8 656.2" fill="none" stroke="#000" stroke-width="2.17"/>
<path d="M286 629.1C287 631.3 289.1 638.1 291.6 642.2C294.1 646.2 299.4 651.5 301 653.4" fill="none" stroke="#000" stroke-width="1.3"/>
<path d="M355.1 652.8L379.4 642.2L470 597.9" fill="none" stroke="#000" stroke-width="2.17"/>
<path d="M358.9 654.7L470 602.4" fill="none" stroke="#000" stroke-width="1.45"/>
<path d="M312.2 625L388.8 591.8" fill="none" stroke="#000" stroke-width="1.3"/>
<path d="M317.8 631.9L334.6 627.2L392.5 603.9L470 568.4" fill="none" stroke="#000" stroke-width="1.45"/>
<path d="M327.1 638.4L398.1 606.7L470 574.9" fill="none" stroke="#000" stroke-width="1.3"/>
<path d="M289.8 621.6L293.5 616L297.2 614.2L307.5 622.6L306.6 631L303.8 634.7L301 632.8L301.9 625.4" fill="none" stroke="#000" stroke-width="2.03"/>
<path d="M289.8 621.6L289.8 629.1L301.9 632.8" fill="none" stroke="#000" stroke-width="1.74"/>
<path d="M297.2 614.2L303.8 621.6" fill="none" stroke="#000" stroke-width="1.74"/>
<path d="M302.8 625.4L304.7 633.8" fill="none" stroke="#000" stroke-width="4.35"/>
<path d="M314 636.6L317.8 642.2L337.4 655.3" fill="none" stroke="#000" stroke-width="2.46"/>
<path d="M312.2 638.4L334.6 656.2" fill="none" stroke="#000" stroke-width="1.16"/>
<path d="M286 628.2L304.7 633.8L312.2 638.4" fill="none" stroke="#000" stroke-width="1.45"/>
<path d="M287.9 638.4L312.2 642.2" fill="none" stroke="#000" stroke-width="1.3"/>
<path d="M291.6 646.8L312.2 645" fill="none" stroke="#000" stroke-width="1.3"/>
<path d="M340 463.5C344.7 461.2 358.7 455.3 368 449.5C377.4 443.8 387.3 436.5 396 429C404.7 421.5 412.8 411.6 420.3 404.7C427.8 397.9 434 392.7 440.9 387.9C447.7 383.1 454.6 379 461.4 375.8C468.2 372.5 474.8 370 481.9 368.3C489.1 366.6 497.5 366.6 504.4 365.5C511.2 364.4 516.2 364.9 523 361.8C529.9 358.6 537.7 352.1 545.4 346.8C553.2 341.5 565.7 332.8 569.7 330" fill="none" stroke="#000" stroke-width="2.32"/>
<path d="M340 474.7C347.8 471.8 374.6 462.1 386.7 457C398.8 451.9 408.5 446.1 412.8 443.9" fill="none" stroke="#000" stroke-width="1.74"/>
<path d="M413.8 442.1L528.6 374.8L580 344" fill="none" stroke="#000" stroke-width="1.3"/>
<path d="M418.4 449.5L580 355.2" fill="none" stroke="#000" stroke-width="1.3"/>
<path d="M414.7 445.8L580 349.6" fill="none" stroke="#000" stroke-width="1.16"/>
<path d="M407.2 432.7C409.7 429.3 416.6 418.7 422.2 412.2C427.8 405.6 434.3 398.9 440.9 393.5C447.4 388.1 454.6 383.2 461.4 379.5C468.2 375.8 474.8 373.1 481.9 371.1C489.1 369.1 496.9 368.4 504.4 367.4C511.8 366.3 523 365 526.8 364.6" fill="none" stroke="#000" stroke-width="2.03"/>
<path d="M420.3 417.8C424.4 414 436.2 401.9 444.6 395.4C453 388.8 462.6 382.3 470.7 378.6C478.8 374.8 489.4 373.9 493.2 373" fill="none" stroke="#000" stroke-width="1.16"/>
<path d="M444.6 404.7C448.9 401.6 461.4 390.9 470.7 386C480.1 381.2 495.6 377.5 500.6 375.8" fill="none" stroke="#000" stroke-width="1.16"/>
<path d="M452.1 394.4C455.8 392.3 467 384.6 474.5 381.4C481.9 378.1 493.2 375.9 496.9 374.8" fill="none" stroke="#000" stroke-width="1.16"/>
<path d="M438.1 399.1L444.6 395.4L448.3 402.8L441.8 404.7Z" fill="none" stroke="#000" stroke-width="1.74"/>
<path d="M463.3 382.3L471.7 378.6L477.3 387.9L473.5 389.8Z" fill="none" stroke="#000" stroke-width="1.74"/>
<path d="M498.8 372L504.4 380.4L509 376.7L505.3 370.2" fill="none" stroke="#000" stroke-width="2.03"/>
<path d="M513.7 367.4L516.5 376.7" fill="none" stroke="#000" stroke-width="1.74"/>
<path d="M524.9 366.4L528.6 374.8L535.2 373.9" fill="none" stroke="#000" stroke-width="3.77"/>
<path d="M502.5 373.9L507.2 377.6" fill="none" stroke="#000" stroke-width="3.62"/>
<path d="M406.3 432.7L420.3 421.5L423.1 427.1L414.7 435.5L411.9 436.5Z" fill="none" stroke="#000" stroke-width="2.17"/>
<path d="M412.8 427.1L419.4 424.3L421.2 429L415.6 432.7Z" fill="none" stroke="#000" stroke-width="1.74"/>
<path d="M411.9 436.5L413.8 442.1" fill="none" stroke="#000" stroke-width="1.74"/>
<path d="M384.8 485L407.2 473.8L408.2 460.7L418.4 452.3L427.8 460.7L483.8 429L483.8 415.9L495 409.4L502.5 416.8L526.8 403.8" fill="none" stroke="#000" stroke-width="2.17"/>
<path d="M541.7 391.6L580 371.1" fill="none" stroke="#000" stroke-width="2.17"/>
<path d="M409.1 458.9L418.4 453.3" fill="none" stroke="#000" stroke-width="3.48"/>
<path d="M484.7 414L495 410.3" fill="none" stroke="#000" stroke-width="3.48"/>
<path d="M444.6 431.8L455.8 427.1L459.5 436.5L448.3 442.1Z" fill="none" stroke="#000" stroke-width="2.17"/>
<path d="M447.4 435.5L456.7 431.8" fill="none" stroke="#000" stroke-width="1.74"/>
<path d="M448.3 438.3L457.7 434.2" fill="none" stroke="#000" stroke-width="1.74"/>
<path d="M448.3 449.5C449.3 452 452.1 457.6 453.9 464.5C455.8 471.3 458.6 486.3 459.5 490.6" fill="none" stroke="#000" stroke-width="3.48"/>
<path d="M451.1 448.6C452.1 451.2 454.9 457.8 456.7 464.5C458.6 471.2 461.4 484.7 462.3 488.8" fill="none" stroke="#000" stroke-width="1.3"/>
<path d="M461.4 442.1C462.6 445.2 466.8 453.9 468.9 460.7C470.9 467.6 472.8 479.4 473.5 483.2" fill="none" stroke="#000" stroke-width="3.19"/>
<path d="M452.1 499L453.9 492.5L459.5 490.6L473.5 484.1L478.2 481.3L480.1 492.5L478.2 499" fill="none" stroke="#000" stroke-width="2.03"/>
<path d="M526.8 403.8L528.6 395.4L535.2 391.6L558.5 404.7L561.3 409.4L560.4 415L556.7 416.8L552.9 413.1L530.5 408.4" fill="none" stroke="#000" stroke-width="2.03"/>
<path d="M530.5 408.4L538 434.6L541.7 453.3L543.6 449.5" fill="none" stroke="#000" stroke-width="1.89"/>
<path d="M536.1 410.3L543.6 434.6L544.5 445.8" fill="none" stroke="#000" stroke-width="1.74"/>
<path d="M543.6 412.2L549.2 430.9L550.1 443.9" fill="none" stroke="#000" stroke-width="1.74"/>
<path d="M551.1 415L554.8 430.9L553.9 445.8L551.1 446.7L550.1 443.9" fill="none" stroke="#000" stroke-width="1.74"/>
<path d="M481.9 481.3L538 447.7" fill="none" stroke="#000" stroke-width="2.9"/>
<path d="M545.4 462.6L580 442.1" fill="none" stroke="#000" stroke-width="4.64"/>
<path d="M481.9 494.4L530.5 471.9" fill="none" stroke="#000" stroke-width="3.19"/>
<path d="M545.4 466.3L580 446.7" fill="none" stroke="#000" stroke-width="1.3"/>
<path d="M530.5 473.8L541.7 462.6L547.3 477.5L532.4 474.7Z" fill="none" stroke="#000" stroke-width="1.74"/>
<path d="M547.3 460.7L551.1 488.8L560.4 499" fill="none" stroke="#000" stroke-width="1.89"/>
<path d="M560.4 434.6L566.9 429.9L573.5 434.6L580 434.6" fill="none" stroke="#000" stroke-width="2.03"/>
<path d="M573.5 434.6L580 440.2" fill="none" stroke="#000" stroke-width="5.8"/>
<path d="M368 488.8L372.7 483.2L379.2 483.2L403.5 496.2" fill="none" stroke="#000" stroke-width="2.03"/>
<path d="M358.7 496.2L369.9 490.6" fill="none" stroke="#000" stroke-width="2.03"/>
<path d="M368 488.8L369.9 499" fill="none" stroke="#000" stroke-width="1.89"/>
<path d="M569.7 499L570.7 490.6L580 485" fill="none" stroke="#000" stroke-width="1.74"/>
<path d="M573.5 499L574.4 493.4L580 489.7" fill="none" stroke="#000" stroke-width="1.74"/>
</g>
<g id="p05d">
<path d="M520 358.8C524.7 356 538.7 348.3 548 342C557.3 335.8 567.3 328.3 576 321.5C584.7 314.6 593.4 307 600.3 301C607.1 294.9 613.7 288.8 617.1 285.1C620.5 281.3 620.4 280.9 620.8 278.5C621.3 276.2 621.1 274.2 619.9 271.1C618.7 268 615.9 263.6 613.4 259.9C610.9 256.1 606.4 250.5 605 248.7" fill="none" stroke="#000" stroke-width="2.32"/>
<path d="M605 248.7L606.8 245.9L614.3 243.4L630.2 265.5L637.6 267.3L640.4 278.5" fill="none" stroke="#000" stroke-width="2.17"/>
<path d="M609.6 251.5L613.4 249.6L624.6 264.5L621.8 266.4Z" fill="none" stroke="#000" stroke-width="1.89"/>
<path d="M520 362.6C526.2 359.1 544.9 350.4 557.3 342C569.8 333.6 584 321.5 594.7 312.2C605.4 302.8 617.3 290.4 621.8 286" fill="none" stroke="#000" stroke-width="1.16"/>
<path d="M536.8 373.8C542.7 369.7 560.8 358.2 572.3 349.5C583.8 340.8 595.9 329.9 605.9 321.5C615.9 313.1 626.6 304.4 632 299.1C637.5 293.8 637.2 293.2 638.6 289.8C640 286.3 640.1 280.4 640.4 278.5" fill="none" stroke="#000" stroke-width="2.17"/>
<path d="M620.8 270.1L633.9 268.3L638.6 276.7L636.7 287.9" fill="none" stroke="#000" stroke-width="1.3"/>
<path d="M521.9 360.7C526.2 360.9 540.5 362.3 548 361.6C555.5 361 560.8 360.2 566.7 357C572.6 353.7 580.7 344.5 583.5 342" fill="none" stroke="#000" stroke-width="1.16"/>
<path d="M523.7 366.3L529.3 373.8L536.8 373.8" fill="none" stroke="#000" stroke-width="2.03"/>
<path d="M524.7 367.2L528.4 372.8" fill="none" stroke="#000" stroke-width="5.08"/>
<path d="M637.6 295.4C639.8 299.1 646.7 310 650.7 317.8C654.8 325.5 659 333.9 661.9 342C664.9 350.1 667 356.7 668.4 366.3C669.8 376 670 394.3 670.3 399.9" fill="none" stroke="#000" stroke-width="2.32"/>
<path d="M633.9 298.2C635.8 301.7 641.4 311.7 645.1 319.6C648.8 327.6 653.4 337.4 656.3 345.8C659.3 354.2 661.4 361 662.8 370C664.2 379.1 664.4 394.9 664.7 399.9" fill="none" stroke="#000" stroke-width="1.74"/>
<path d="M630.2 304.7L639.5 306.6" fill="none" stroke="#000" stroke-width="1.45"/>
<path d="M639.5 325.2L650.7 325.2" fill="none" stroke="#000" stroke-width="1.45"/>
<path d="M650.7 358.8L663.8 360.7" fill="none" stroke="#000" stroke-width="1.45"/>
<path d="M650.7 390.6L667.5 394.3" fill="none" stroke="#000" stroke-width="1.45"/>
<path d="M642.3 327.1C643.7 332.7 649.3 350.1 650.7 360.7C652.1 371.3 650.7 385.6 650.7 390.6" fill="none" stroke="#000" stroke-width="1.45"/>
<path d="M634.8 327.1C635.6 330.2 638.1 339.5 639.5 345.8C640.9 352 642.5 358.2 643.2 364.4C644 370.7 644.5 378.1 644.2 383.1C643.9 388.1 641.8 392.4 641.4 394.3" fill="none" stroke="#000" stroke-width="6.09"/>
<path d="M639.5 325.2C640.7 329.3 645.3 341.7 647 349.5C648.7 357.3 649.5 364.8 649.8 371.9C650.1 379.1 649 389 648.8 392.4" fill="none" stroke="#000" stroke-width="1.59"/>
<path d="M620.8 309.4L628.3 308.4L635.8 323.4" fill="none" stroke="#000" stroke-width="1.74"/>
<path d="M600.3 327.1L620.8 310.3" fill="none" stroke="#000" stroke-width="1.74"/>
<path d="M605.9 331.8L626.4 314L632 317.8" fill="none" stroke="#000" stroke-width="1.45"/>
<path d="M617.1 334.6L635.8 323.4" fill="none" stroke="#000" stroke-width="1.74"/>
<path d="M598.4 327.1L605.9 323.4L607.8 330.8L617.1 334.6L618 342L607.8 346.7L604 338.3L594.7 336.4Z" fill="none" stroke="#000" stroke-width="2.17"/>
<path d="M601.2 329L605 336.4" fill="none" stroke="#000" stroke-width="4.35"/>
<path d="M607.8 330.8L604 338.3" fill="none" stroke="#000" stroke-width="1.74"/>
<path d="M572.3 350.4L594.7 337.4L607.8 346.7L613.4 351.4L612.4 360.7L607.8 362.6Z" fill="none" stroke="#000" stroke-width="2.17"/>
<ellipse cx="610.6" cy="358.5" rx="2.2" ry="3.4" fill="#000" stroke="#000" stroke-width="1.6"/>
<path d="M538.7 394.3L591 360.7" fill="none" stroke="#000" stroke-width="2.17"/>
<path d="M531.2 392.4L538.7 394.3L548 399" fill="none" stroke="#000" stroke-width="1.89"/>
<path d="M590 360.7L591.9 399.9" fill="none" stroke="#000" stroke-width="2.32"/>
<path d="M596.6 360.7L597.5 399.9" fill="none" stroke="#000" stroke-width="1.45"/>
<path d="M601.2 358.8L602.2 399.9" fill="none" stroke="#000" stroke-width="2.03"/>
<path d="M520 377.5L572.3 349.5" fill="none" stroke="#000" stroke-width="1.3"/>
<path d="M520 385L574.1 353.2" fill="none" stroke="#000" stroke-width="1.3"/>
<path d="M613.4 396.2L632 394.3L641.4 388.7" fill="none" stroke="#000" stroke-width="3.77"/>
<path d="M668.8 370C669 374.7 670.1 388.7 669.8 398C669.5 407.3 668.7 416.7 667 426C665.3 435.4 662.9 445 659.5 454C656.1 463 651.4 472.7 646.4 480.2C641.5 487.6 638 492 629.6 498.8C621.2 505.7 606.3 514.6 596 521.2C585.7 527.9 572.7 536 568 539" fill="none" stroke="#000" stroke-width="2.32"/>
<path d="M665.1 370C665.3 374.7 666.3 388.7 666 398C665.7 407.3 664.9 417 663.2 426C661.5 435 658.9 443.8 655.8 452.2C652.7 460.6 649.2 469.3 644.6 476.4C639.9 483.6 635.9 488.3 627.8 495.1C619.7 502 601.3 513.8 596 517.5" fill="none" stroke="#000" stroke-width="1.45"/>
<path d="M641.8 370L643.6 388.7" fill="none" stroke="#000" stroke-width="5.8"/>
<path d="M647.4 370L648.3 390.5" fill="none" stroke="#000" stroke-width="2.9"/>
<path d="M648.3 391.5L667 395.2" fill="none" stroke="#000" stroke-width="1.59"/>
<path d="M590.4 370C590.3 377.8 589.9 399.3 589.5 416.7C589 434.1 587.9 464.9 587.6 474.6" fill="none" stroke="#000" stroke-width="2.17"/>
<path d="M596 370C595.7 376.2 595.1 396.5 594.1 407.3C593.2 418.2 591 430.7 590.4 435.4" fill="none" stroke="#000" stroke-width="2.17"/>
<path d="M601.6 370L599.8 416.7" fill="none" stroke="#000" stroke-width="1.45"/>
<path d="M599.8 407.3L614.7 398L616.6 394.3L620.3 395.2L622.2 399.9L640.8 390.5L643.6 394.3L620.3 407.3L620.3 414.8L611 420.4L609.1 412.9L599.8 418.5" fill="none" stroke="#000" stroke-width="2.17"/>
<path d="M629.6 396.1L640.8 389.6" fill="none" stroke="#000" stroke-width="4.35"/>
<path d="M590.4 433.5L640.8 402.7" fill="none" stroke="#000" stroke-width="4.06"/>
<path d="M543.7 461.5L577.3 442.8" fill="none" stroke="#000" stroke-width="4.06"/>
<path d="M577.3 442.8L584.8 427.9L587.6 416.7" fill="none" stroke="#000" stroke-width="1.89"/>
<path d="M591.3 436.3L640.8 406.4" fill="none" stroke="#000" stroke-width="1.16"/>
<path d="M544.7 464.3L578.3 445.6" fill="none" stroke="#000" stroke-width="1.16"/>
<path d="M540 392.4L558.7 405.5L560.5 412.9L556.8 415.7L540 409.2" fill="none" stroke="#000" stroke-width="2.03"/>
<path d="M557.7 407.3L559.6 414.8" fill="none" stroke="#000" stroke-width="4.35"/>
<path d="M622.2 426L627.8 424.1L641.8 430.7L643.6 437.2L640.8 441.9L635.2 441L629.6 431.6Z" fill="none" stroke="#000" stroke-width="1.74"/>
<path d="M631.5 428.8L641.8 432.6L642.7 437.2L640.5 441L635.6 440Z" fill="#000" stroke="#000" stroke-width="1.74"/>
<path d="M641.8 403.6L635.2 426" fill="none" stroke="#000" stroke-width="3.19"/>
<path d="M644.6 404.5L639.9 427.9" fill="none" stroke="#000" stroke-width="1.45"/>
<path d="M594.1 438.2L605.4 457.8L604.4 474.6L596 485.8L568 500.7L564.3 498.8L551.2 485.8L553.1 467.1L545.6 463.4" fill="none" stroke="#000" stroke-width="2.03"/>
<path d="M545.6 463.4L547.5 474.6L543.7 478.3L540 477.4" fill="none" stroke="#000" stroke-width="2.03"/>
<path d="M594.1 438.2L590.4 439.1" fill="none" stroke="#000" stroke-width="1.74"/>
<path d="M610 455L611 467.1L614.7 471.8L636.2 483.9" fill="none" stroke="#000" stroke-width="2.61"/>
<path d="M611 454L622.2 441L633.4 440" fill="none" stroke="#000" stroke-width="1.74"/>
<path d="M614.7 467.1L633.4 444.7" fill="none" stroke="#000" stroke-width="1.45"/>
<path d="M607.2 457.8L622.2 444.7" fill="none" stroke="#000" stroke-width="1.45"/>
<path d="M582.9 482L594.1 474.6L597 482L586.7 489.5Z" fill="#000" stroke="#000" stroke-width="2.03"/>
<path d="M568 500.7L568.9 489.5L573.6 483.9L594.1 474.6" fill="none" stroke="#000" stroke-width="1.74"/>
<path d="M572.7 498.8L573.6 489.5L577.3 485.8" fill="none" stroke="#000" stroke-width="1.3"/>
<path d="M541.9 500.7L543.7 515.6L547.5 519.4L566.1 529.6" fill="none" stroke="#000" stroke-width="2.61"/>
<path d="M540 498.8L553.1 492.3" fill="none" stroke="#000" stroke-width="1.3"/>
<path d="M547.5 511.9L603.5 480.2" fill="none" stroke="#000" stroke-width="1.3"/>
<path d="M540 508.2L551.2 502.6" fill="none" stroke="#000" stroke-width="1.3"/>
<path d="M579.2 442.8L587.6 467.1" fill="none" stroke="#000" stroke-width="1.3"/>
</g>
<g id="p06">
<path d="M685.9 289.5C685.9 288.3 685.1 283.8 685.9 282.1C686.7 280.4 683.6 282.2 690.5 279.3C697.4 276.4 710.5 272.2 727 264.7C743.5 257.2 770.7 244.2 789.5 234.4C808.3 224.6 822.2 215.5 840 205.6C857.8 195.7 876 186.5 896 174.8C916 163.1 942.5 146.9 960 135.6C977.5 124.3 988.3 115.3 1000.7 107.2C1013.1 99.1 1026.6 91.7 1034.4 86.7C1042.2 81.7 1043.4 80.8 1047.4 77.4C1051.4 74 1055.8 68.1 1058.6 66.1C1061.4 64.1 1062.3 64.4 1064.2 65.2C1066.1 66 1067.9 67.5 1069.8 70.8C1071.7 74.1 1073.5 79 1075.4 84.8C1077.3 90.6 1079.7 98.9 1081.1 105.4C1082.5 111.9 1083.6 118.4 1083.9 124C1084.2 129.6 1083.1 136.5 1082.9 139" fill="none" stroke="#000" stroke-width="2.32"/>
<path d="M692.4 289.5C698.3 287 711.7 282.1 727.9 274.6C744.1 267.1 770.2 254.7 789.5 244.7C808.8 234.7 826 224 843.7 214.5C861.5 205 876.6 199.1 896 187.9C915.4 176.7 942.5 158.4 960 147.3C977.5 136.2 987.7 130.1 1000.7 121.2C1013.7 112.3 1027.5 102 1038.1 94.2C1048.7 86.4 1059.2 77.6 1064.2 74.6C1069.2 71.6 1067.4 76.1 1068 76.4" fill="none" stroke="#000" stroke-width="2.17"/>
<path d="M1068 76.4C1068.9 78.4 1071.9 83.7 1073.6 88.6C1075.3 93.4 1077.2 99.5 1078.2 105.4C1079.3 111.3 1080 118.4 1080.1 124C1080.3 129.6 1079.3 136.5 1079.2 139" fill="none" stroke="#000" stroke-width="1.74"/>
<path d="M1070.8 75.5C1071.7 77.7 1074.7 83.6 1076.4 88.6C1078.1 93.5 1080.1 99.5 1081.1 105.4C1082 111.3 1082.1 120.9 1082.4 124" fill="none" stroke="#000" stroke-width="1.3" stroke-dasharray="1.2 1.2"/>
<path d="M685.9 289.5L694.3 315.7L703.6 340L711.1 352L714.8 355.8" fill="none" stroke="#000" stroke-width="2.32"/>
<path d="M692.4 289.5L709.2 340L713.9 344.6L716.7 347.4" fill="none" stroke="#000" stroke-width="2.17"/>
<path d="M689.6 291.4L706.4 340L712 346.4" fill="none" stroke="#000" stroke-width="1.16"/>
<path d="M714.8 355.8C721 352.8 740.4 343.8 752.2 337.5C764 331.2 771.5 325.9 785.8 317.9C800.1 309.9 820.7 299.5 838.1 289.5C855.5 279.5 867.6 271.1 890.4 257.8C913.1 244.6 958.7 218.9 974.6 210C990.5 201.1 978.3 208.8 985.8 204.4C993.3 200 1010.7 189.4 1019.4 183.8C1028.1 178.2 1033.1 174 1038.1 170.7C1043.1 167.4 1046.2 165.8 1049.3 164.2C1052.4 162.6 1051.8 164.1 1056.8 161.4C1061.8 158.8 1074.8 152 1079.2 148.3C1083.6 144.6 1082.3 140.6 1082.9 139" fill="none" stroke="#000" stroke-width="2.17"/>
<path d="M716.7 347.4C722.6 344.8 744.4 335.5 752.2 331.5C760 327.5 749.1 331.4 763.4 323.5C777.7 315.6 816.3 296 838.1 284.3C859.9 272.6 872.6 265.6 894.1 253.1C915.6 240.5 949.3 219.6 967.1 209C984.9 198.4 988.9 196.7 1000.7 189.4C1012.5 182.1 1029.1 171 1038.1 165.1C1047.1 159.2 1048.1 157.9 1054.9 153.9C1061.8 149.9 1075.2 143.1 1079.2 140.9" fill="none" stroke="#000" stroke-width="3.19"/>
<path d="M716.7 347.4C722.6 344.8 744.4 335.5 752.2 331.5C760 327.5 749.1 331.4 763.4 323.5C777.7 315.6 816.3 296 838.1 284.3C859.9 272.6 872.6 265.6 894.1 253.1C915.6 240.5 949.3 219.6 967.1 209C984.9 198.4 988.9 196.7 1000.7 189.4C1012.5 182.1 1029.1 171 1038.1 165.1C1047.1 159.2 1048.1 157.9 1054.9 153.9C1061.8 149.9 1075.2 143.1 1079.2 140.9" fill="none" stroke="#fff" stroke-width="0.7" stroke-dasharray="1.4 1.4"/>
<path d="M743.8 333.3L741.9 324.9L763.4 314.7L764.3 323.1" fill="none" stroke="#000" stroke-width="1.45"/>
<path d="M894.1 252.2L893.2 243.8L910 235.4" fill="none" stroke="#000" stroke-width="1.45"/>
<path d="M1036.2 166.1L1034.4 158.6L1054 145.5L1054.9 154.9" fill="none" stroke="#000" stroke-width="1.45"/>
<path d="M748.4 328.7L753.1 327.7L750.3 329.6" fill="none" stroke="#000" stroke-width="1.45"/>
<path d="M1040.9 159.5L1047.4 157.7L1050.2 153.9" fill="none" stroke="#000" stroke-width="1.45"/>
<path d="M713 277.4L705.5 255.9L709.2 253.1L715.8 269L716.7 248.4L719.5 246.6L721.4 254L726 265.3L726 270.9" fill="none" stroke="#000" stroke-width="2.61"/>
<path d="M1038.1 90.4L1029.7 66.1L1032.5 65.2L1039 82L1039 64.3L1042.8 62.4L1044.6 70.8L1048.4 80.2L1049.3 84.8" fill="none" stroke="#000" stroke-width="2.61"/>
<path d="M883 184.5L895 177.5L896 181L884 188Z" fill="#000" stroke="#000" stroke-width="1.74"/>
<path d="M682.1 408.1L690.5 401.5L804.5 337.1L810.1 337.1L834.4 355.8L841.8 362.3L841.8 365.1L726 431.4L709.2 429.5L683.1 412.7Z" fill="#fff" stroke="#000" stroke-width="2.17"/>
<path d="M690.5 403.4L709.2 419.3L724.2 421.1L830.6 360.4L829.7 356.7L834.4 355.8" fill="none" stroke="#000" stroke-width="1.16"/>
<path d="M690.5 401.5L710.2 421.5L725.1 423.4L832.5 361.9" fill="none" stroke="#000" stroke-width="1.16"/>
<path d="M726 429.5L840.9 363.8" fill="none" stroke="#000" stroke-width="3.19"/>
<path d="M726 429.5L840.9 363.8" fill="none" stroke="#fff" stroke-width="0.7" stroke-dasharray="1.4 1.4"/>
<path d="M683.1 410.5L709.2 427.3L726 429.2" fill="none" stroke="#000" stroke-width="1.16"/>
<path d="M751.6 161.6C753.1 159.5 755.7 154.6 760.2 149.2C764.7 143.8 771.8 135.5 778.8 129C785.8 122.5 794.3 115.2 802.1 110.4C809.9 105.6 817.6 102.9 825.4 100.3C833.2 97.7 840.7 96.1 848.7 94.8C856.7 93.6 869.4 92.9 873.5 92.5L877.4 99.5L881.3 100.3L880.5 102.6L760.2 171.7L757.1 170.9L751.6 161.6Z" fill="#fff" stroke="#000" stroke-width="2.61"/>
<path d="M760.2 170.5L879 102.3" fill="none" stroke="#000" stroke-width="3.48"/>
<path d="M761 170.2L878.2 102.6" fill="none" stroke="#fff" stroke-width="0.7" stroke-dasharray="1.4 1.4"/>
<path d="M823.9 133.7C823.9 132.4 824.6 128.7 823.9 125.9C823.1 123.1 821.5 118.8 819.2 116.6C816.9 114.4 812.7 113 809.9 112.7C807 112.4 804.1 113.6 802.1 115C800.2 116.5 798.6 118.4 798.2 121.2C797.8 124.1 798.6 128.6 799.8 132.1C800.9 135.6 804.3 140.5 805.2 142.2" fill="none" stroke="#000" stroke-width="3.19"/>
<path d="M802.1 110.4C803.7 110.2 808.1 108.8 811.4 109.6C814.8 110.4 819.5 112.6 822.3 115C825.1 117.5 827.3 121.8 828.5 124.3C829.7 126.9 829.2 129.5 829.3 130.6" fill="none" stroke="#000" stroke-width="1.74"/>
<path d="M805.2 110.7C806.8 110.8 811.4 110.5 814.5 111.6C817.6 112.7 821.8 115 823.9 117.4C825.9 119.7 826.4 123.6 827 125.9C827.5 128.2 827.2 130.4 827.3 131.3" fill="none" stroke="#000" stroke-width="1.16"/>
<path d="M787.4 151.5C786.6 149.3 782.8 141.2 782.7 138.3C782.6 135.5 784.8 135.3 786.6 134.4C788.4 133.5 791.5 132.2 793.6 132.9C795.6 133.5 797.7 136.1 799 138.3C800.3 140.5 800.9 144.8 801.3 146.1" fill="none" stroke="#000" stroke-width="2.9"/>
<path d="M789.7 132.1C790.7 132 794 130.7 795.9 131.3C797.8 132 800 134.1 801.3 136C802.6 137.9 803.3 141.8 803.7 143" fill="none" stroke="#000" stroke-width="1.45"/>
<path d="M754.8 160.8C758.8 156.1 770.9 140.1 778.8 132.1C786.7 124.1 798.2 115.9 802.1 112.7" fill="none" stroke="#000" stroke-width="1.16"/>
<path d="M799.8 181.8C801.5 179.2 805.3 172 809.9 166.3C814.4 160.6 820.5 153.3 827 147.6C833.4 141.9 841.7 136.3 848.7 132.1C855.7 128 862.2 125.3 868.9 122.8C875.6 120.3 882.3 118.5 889.1 117.4C895.8 116.2 904.1 116.1 909.3 115.8C914.4 115.5 918.3 115.8 920.1 115.8L923.2 119.7L924 123.6L921.7 126.7C917.3 128.9 906.7 133.5 895.3 139.9C883.9 146.2 867.8 156.2 853.4 164.7C838.9 173.3 815.8 186.7 808.3 191.1L802.9 191.9L799.8 185.7L799.8 181.8Z" fill="#fff" stroke="#000" stroke-width="2.9"/>
<path d="M803.7 184.1C805.2 181.7 808.6 174.9 813 169.4C817.4 163.8 823.9 156.4 830.1 150.7C836.3 145.1 843.5 139.5 850.2 135.2C857 130.9 864 127.6 870.4 125.1C876.9 122.7 882.9 121.6 889.1 120.5C895.3 119.4 904.6 118.8 907.7 118.4" fill="none" stroke="#000" stroke-width="1.45" stroke-dasharray="1.5 1.2"/>
<path d="M853.4 164.7C852.4 163.4 849.2 159.8 847.9 157C846.6 154.1 845.5 150.5 845.6 147.6C845.7 144.8 846.9 141.8 848.7 139.9C850.5 137.9 853.6 136.3 856.5 136C859.3 135.7 863.2 136.6 865.8 138.3C868.4 140 870.8 143.4 872 146.1C873.2 148.8 872.6 153.2 872.8 154.6" fill="none" stroke="#000" stroke-width="3.77"/>
<circle cx="899.2" cy="129.8" r="5.6" fill="#fff" stroke="#000" stroke-width="1.6"/><circle cx="899.2" cy="129.8" r="2.6" fill="none" stroke="#000" stroke-width="1"/>
<circle cx="820.7" cy="174.8" r="5.6" fill="#fff" stroke="#000" stroke-width="1.6"/><circle cx="820.7" cy="174.8" r="2.6" fill="none" stroke="#000" stroke-width="1"/>
<path d="M832.4 171.7C832 170.5 829.9 166.4 830.1 164.7C830.2 163 831.6 162.1 833.2 161.6C834.7 161.1 837.7 160.3 839.4 161.6C841.1 162.9 842.6 168.1 843.3 169.4" fill="none" stroke="#000" stroke-width="2.9"/>
<path d="M836.3 159.3C837.3 159.4 840.8 158.8 842.5 160.1C844.2 161.4 845.7 165.9 846.4 167" fill="none" stroke="#000" stroke-width="1.16"/>
<path d="M837 163.2L839.4 170.9" fill="none" stroke="#000" stroke-width="3.48"/>
<path d="M808.3 186.5L813 185.7L809.9 188Z" fill="#000" stroke="#000" stroke-width="1.45"/>
<path d="M830.1 177.1L833.2 174L833.9 177.1Z" fill="#000" stroke="#000" stroke-width="1.45"/>
<path d="M891.4 140.7L894.5 138.3L894.5 140.7Z" fill="#000" stroke="#000" stroke-width="1.45"/>
<path d="M913.1 125.9L916.2 123.6L917 125.9Z" fill="#000" stroke="#000" stroke-width="1.45"/>
<path d="M918.6 118.9L920.9 123.6" fill="none" stroke="#000" stroke-width="2.17"/>
<path d="M802.1 185.7L805.2 190.3" fill="none" stroke="#000" stroke-width="1.45"/>
</g>
<g id="p07">
<path d="M492.1 642.1C491.5 643.2 489 646 488.4 648.7C487.8 651.3 486.1 649.6 488.4 658C490.7 666.4 495.4 679.8 502.4 699.1C509.4 718.4 523.9 759.2 530.4 773.8C537 788.4 537 783.2 541.6 786.9C546.3 790.6 554.1 794.2 558.4 796.2C562.8 798.2 566.2 798.6 567.8 799" fill="none" stroke="#000" stroke-width="2.32"/>
<path d="M496.8 654.3C500.2 663.3 510.5 691.6 517.4 708.4C524.2 725.3 531.7 743.3 537.9 755.1C544.1 767 550.7 773.8 554.7 779.4C558.8 785 558.4 786 562.2 788.8C565.9 791.6 572.1 794.7 577.1 796.2C582.1 797.8 589.6 797.8 592.1 798.1" fill="none" stroke="#000" stroke-width="2.17"/>
<path d="M502.4 659.9C505.8 668.9 516.4 697.2 523 714C529.5 730.9 538.5 753 541.6 760.7" fill="none" stroke="#000" stroke-width="1.16"/>
<path d="M492.1 642.1C496 642 507.5 642 515.5 641.2C523.5 640.4 536 637.8 540.1 637.1" fill="none" stroke="#000" stroke-width="2.46"/>
<path d="M494.9 650.5C498.4 650.1 507.7 649.1 515.5 647.7C523.3 646.3 537.3 643.1 541.6 642.1" fill="none" stroke="#000" stroke-width="2.17"/>
<path d="M494 642.1L495.9 651.5L513.6 650.5L514.6 642.1" fill="none" stroke="#000" stroke-width="1.74"/>
<path d="M517.4 644L551 638.4" fill="none" stroke="#000" stroke-width="3.19"/>
<path d="M567.8 799C572.5 798.6 585.5 798.6 595.8 796.2C606.1 793.9 617.6 789.7 629.4 785C641.2 780.4 653.9 774.4 666.8 768.2C679.7 762 700.2 751.1 706.9 747.7" fill="none" stroke="#000" stroke-width="2.32"/>
<path d="M577.1 792.5C585.8 790 610.4 784.7 629.4 777.5C648.4 770.4 680.8 754.2 691.1 749.5" fill="none" stroke="#000" stroke-width="1.3"/>
<path d="M595.8 794.4L706.9 751.4" fill="none" stroke="#000" stroke-width="1.3"/>
<path d="M562.2 785C572.8 781.9 605.1 773.8 625.7 766.3C646.2 758.9 672.7 746 685.4 740.2C698.2 734.4 699.5 733.2 702.3 731.8" fill="none" stroke="#000" stroke-width="1.3"/>
<path d="M625.7 771.9L691.1 745.8" fill="none" stroke="#000" stroke-width="3.77"/>
<path d="M626.6 774.7L692 748.6" fill="none" stroke="#000" stroke-width="1.16"/>
<path d="M571.5 673L642.5 688.8L644.4 692.6L639.7 703.8L640.6 710.3L631.3 727.1L633.2 730.9" fill="none" stroke="#000" stroke-width="2.32"/>
<path d="M571.5 673L569.6 678.6L580.9 692.6" fill="none" stroke="#000" stroke-width="2.03"/>
<path d="M517.4 682.3L545.4 686L580.9 692.6L629.4 700L632.2 701.9L621.9 730.9L612.6 723.4" fill="none" stroke="#000" stroke-width="1.74"/>
<path d="M515.5 679.5L523 695.4" fill="none" stroke="#000" stroke-width="2.03"/>
<path d="M523.9 695.4L547.2 686L580.9 691.6" fill="none" stroke="#000" stroke-width="3.19"/>
<path d="M565.9 719.6L584.6 711.2" fill="none" stroke="#000" stroke-width="3.19"/>
<path d="M562.2 719.6L565 736.5" fill="none" stroke="#000" stroke-width="4.64"/>
<path d="M541.6 745.8L564 736.5" fill="none" stroke="#000" stroke-width="3.19"/>
<path d="M528.6 695.4L543.5 742.1" fill="none" stroke="#000" stroke-width="1.16"/>
<path d="M558.4 689.8L562.2 719.6" fill="none" stroke="#000" stroke-width="1.3"/>
<path d="M580.9 693.5L584.6 706.6L580.9 712.2" fill="none" stroke="#000" stroke-width="1.3"/>
<path d="M556.6 708.4L562.2 710.3L584.6 706.6" fill="none" stroke="#000" stroke-width="1.3"/>
<path d="M543.5 726.2L556.6 727.1L562.2 719.6" fill="none" stroke="#000" stroke-width="1.45"/>
<path d="M545.4 734.6L558.4 729" fill="none" stroke="#000" stroke-width="1.45"/>
<path d="M544.4 726.2L547.2 738.3" fill="none" stroke="#000" stroke-width="1.45"/>
<path d="M539.8 747.7L610.7 721.5L620.1 730.9L635 725.3" fill="none" stroke="#000" stroke-width="1.74"/>
<path d="M541.6 751.4L549.1 760.7L610.7 736.5" fill="none" stroke="#000" stroke-width="1.74"/>
<path d="M554.7 766.3L584.6 757" fill="none" stroke="#000" stroke-width="1.74"/>
<path d="M558.4 771.9L586.5 760.7" fill="none" stroke="#000" stroke-width="3.19"/>
<path d="M539.8 747.7L541.6 757L554.7 777.5" fill="none" stroke="#000" stroke-width="2.32"/>
<path d="M517.4 704.7L523 719.6L539.8 749.5" fill="none" stroke="#000" stroke-width="2.9"/>
<path d="M584.6 740.2L592.1 743L599.5 738.3L592.1 735.5Z" fill="none" stroke="#000" stroke-width="1.59"/>
<path d="M610.7 721.5L629.4 701" fill="none" stroke="#000" stroke-width="1.3"/>
<path d="M616.3 727.1L629.4 704.7" fill="none" stroke="#000" stroke-width="1.3"/>
<path d="M545.4 749.5L612.6 723.4" fill="none" stroke="#000" stroke-width="1.16"/>
<path d="M638.8 721.5C639.7 723.1 643.1 727.4 644.4 730.9C645.6 734.3 646.5 738.6 646.2 742.1C645.9 745.5 645.9 748.3 642.5 751.4C639.1 754.5 628.6 757.6 625.7 760.7C622.7 763.9 624.9 768.5 624.7 770.1" fill="none" stroke="#000" stroke-width="2.32"/>
<path d="M629.4 729L638.8 721.5" fill="none" stroke="#000" stroke-width="1.89"/>
<path d="M623.8 762.6L642.5 755.1" fill="none" stroke="#000" stroke-width="1.74"/>
<path d="M613.5 758.9L616.3 749.5L621.9 746.7L625.7 753.3L620.1 760.7Z" fill="none" stroke="#000" stroke-width="2.03"/>
<path d="M617.3 751.4L621.9 757" fill="none" stroke="#000" stroke-width="3.19"/>
<path d="M657.4 738.3C658.1 736.5 659.5 730.5 661.2 727.1C662.9 723.7 665.5 717.8 667.7 717.8C669.9 717.8 672.1 723.1 674.2 727.1C676.4 731.2 678.3 738.3 680.8 742.1C683.3 745.8 687.8 748.3 689.2 749.5" fill="none" stroke="#000" stroke-width="2.32"/>
<path d="M657.4 738.3L663 742.1L678 742.1" fill="none" stroke="#000" stroke-width="1.74"/>
<path d="M667.7 716.8L691.1 706.6" fill="none" stroke="#000" stroke-width="1.45"/>
<path d="M680.8 742.1L704.1 731.8" fill="none" stroke="#000" stroke-width="1.3"/>
<path d="M640.6 703.8L679.8 684.2" fill="none" stroke="#000" stroke-width="2.32"/>
<path d="M653.7 702.8L656.5 695.4L664 690.7L662.1 697.2Z" fill="none" stroke="#000" stroke-width="1.59"/>
<path d="M579 760.7C580.5 762.6 584.9 769.6 588.3 771.9C591.8 774.3 595.2 775.4 599.5 774.7C603.9 774.1 611.4 768.4 614.5 768.2C617.6 768.1 617.6 772.9 618.2 773.8" fill="none" stroke="#000" stroke-width="2.03"/>
<path d="M584.6 760.7C585.8 762.3 589.3 768.4 592.1 770.1C594.9 771.8 599.8 770.9 601.4 771" fill="none" stroke="#000" stroke-width="1.16"/>
<path d="M513.6 650.5C518.9 654.9 538.5 672.6 545.4 676.7C552.2 680.7 552.8 677.6 554.7 674.8C556.6 672 557.2 665.6 556.6 659.9C556 654.1 551.9 643.5 551 640.3" fill="none" stroke="#000" stroke-width="1.45"/>
<path d="M498.7 658L543.5 673" fill="none" stroke="#000" stroke-width="1.45"/>
<path d="M551 640.3L562.2 641.2L567.8 652.4L573.4 656.1L575.3 671.1L571.5 673" fill="none" stroke="#000" stroke-width="2.17"/>
<path d="M562.2 635.6L573.4 637.5L579 643.1L578.1 650.5L573.4 656.1" fill="none" stroke="#000" stroke-width="1.74"/>
<path d="M567.8 639.3L571.5 646.8" fill="none" stroke="#000" stroke-width="4.35"/>
<path d="M511.8 671.1L517.4 704.7" fill="none" stroke="#000" stroke-width="1.45"/>
<path d="M513.6 673L545.4 679.5L544.4 686" fill="none" stroke="#000" stroke-width="1.3"/>
<path d="M701.3 671.1L720 662.7" fill="none" stroke="#000" stroke-width="2.61"/>
<ellipse cx="642.5" cy="635.6" rx="7.5" ry="10" fill="none" stroke="#000" stroke-width="1.3" transform="rotate(-15 642.5 635.6)"/>
<path d="M640.6 630.9L645.3 635.6L641.6 640.3" fill="none" stroke="#000" stroke-width="3.19"/>
<path d="M540 629.6C544 628.4 554.9 626.1 564.3 622.2C573.6 618.3 586.4 611.6 596 606.3C605.7 601 615 594.9 622.2 590.4C629.3 585.9 636.2 581.1 639 579.2" fill="none" stroke="#000" stroke-width="3.19"/>
<path d="M540 637.1C544.7 635.9 557.7 633.4 568 629.6C578.3 625.9 591.4 619.7 601.6 614.7C611.9 609.7 622.5 603.2 629.6 599.8C636.8 596.3 642.1 595.1 644.6 594.2" fill="none" stroke="#000" stroke-width="2.17"/>
<path d="M540 641.8C545 640.5 559 638.2 569.9 634.3C580.8 630.4 594.8 623.6 605.4 618.4C616 613.3 626.5 606.8 633.4 603.5C640.2 600.2 644.3 599.6 646.5 598.8" fill="none" stroke="#000" stroke-width="2.46"/>
<path d="M543.7 633.4C552.5 629.8 579.8 619.7 596 611.9C612.2 604.1 633.4 590.9 640.9 586.7" fill="none" stroke="#000" stroke-width="1.16"/>
<path d="M657.7 562.4C659.8 560.9 666.7 556.2 670.7 553.1C674.8 550 680.1 545.3 681.9 543.7" fill="none" stroke="#000" stroke-width="3.48"/>
<path d="M661.4 566.1C663.3 564.7 669 560.2 672.6 557.7C676.2 555.3 681.2 552.3 682.9 551.2" fill="none" stroke="#000" stroke-width="2.32"/>
<path d="M659.5 565.2L665.1 566.1L667 579.2L663.3 580.2" fill="none" stroke="#000" stroke-width="2.32"/>
<path d="M667 568L685.7 588.6" fill="none" stroke="#000" stroke-width="1.16"/>
<path d="M667 587.6L691.3 576.4" fill="none" stroke="#000" stroke-width="1.16"/>
<path d="M668.9 590.4L698.8 624L709 620.3" fill="none" stroke="#000" stroke-width="1.16"/>
<path d="M680.1 583.9C682.6 584.7 691.6 585.6 695 588.6C698.4 591.5 700 595.7 700.6 601.6C701.2 607.5 699.1 620.3 698.8 624" fill="none" stroke="#000" stroke-width="1.16"/>
<path d="M701.6 671.7L726.8 658.6" fill="none" stroke="#000" stroke-width="2.9"/>
<path d="M743.6 647.4L780 627.8" fill="none" stroke="#000" stroke-width="2.9"/>
<path d="M724 706.2L754.8 693.2" fill="none" stroke="#000" stroke-width="2.9"/>
<path d="M640.9 704.4L680.1 683.8" fill="none" stroke="#000" stroke-width="2.03"/>
<path d="M725.8 685.7L730.5 677.3L736.1 673.5L737 689.4L730.5 694.1Z" fill="none" stroke="#000" stroke-width="1.89"/>
<path d="M726.8 685.7L736.1 689.4" fill="none" stroke="#000" stroke-width="1.16"/>
<path d="M653.9 702.5L657.7 693.2L665.1 689.4L663.3 696.9Z" fill="none" stroke="#000" stroke-width="1.59"/>
<path d="M562.4 637.1L569.9 636.2L577.4 639L579.2 646.5L574.6 652.1" fill="none" stroke="#000" stroke-width="1.89"/>
<path d="M568 637.1C568.6 638.7 570.7 642.7 571.8 646.5C572.8 650.2 574.9 654.2 574.6 659.5C574.2 664.8 570.7 675.1 569.9 678.2" fill="none" stroke="#000" stroke-width="2.32"/>
<path d="M564.3 638.1L568 644.6" fill="none" stroke="#000" stroke-width="4.35"/>
<path d="M551.2 639C552.8 641.2 558.4 647.4 560.5 652.1C562.7 656.7 564.6 662.6 564.3 667C564 671.4 562.7 677.6 558.7 678.2C554.6 678.8 543.1 672 540 670.7" fill="none" stroke="#000" stroke-width="1.45"/>
<path d="M540 644.6C541.9 645.8 548.7 648.3 551.2 652.1C553.7 655.8 554.3 664.5 554.9 667" fill="none" stroke="#000" stroke-width="1.3"/>
</g>
<g id="p08">
<path d="M958 326.1C961.1 325 963.8 324 966.7 323.6C969.6 323.2 972.7 323.1 975.4 323.6C978.1 324.1 979.8 324.8 982.9 326.7C986 328.6 990.2 331.3 994 334.8C997.8 338.3 994.6 333.9 1005.6 347.6C1016.6 361.3 1041.8 393.7 1060 417C1078.2 440.3 1103.5 471.6 1114.9 487.5C1126.3 503.4 1123.8 503.5 1128.6 512.2C1133.4 520.9 1140 530.8 1143.5 539.6C1147 548.4 1148.6 555.4 1149.9 565C1151.2 574.6 1151.6 585.7 1151.2 597.3C1150.8 608.9 1150 622.5 1147.5 634.5C1145 646.5 1141.9 658.5 1136.3 669.3C1130.7 680.1 1123.4 689.6 1113.9 699.1C1104.4 708.6 1092.3 717 1079.1 726.5C1065.8 736 1054.1 743.3 1034.4 756.3C1014.7 769.2 983.5 790.8 960.9 804.2C938.3 817.6 919.1 827 898.8 836.5C878.5 846 854.9 856.1 839.1 861.3C823.4 866.5 813.4 866.7 804.3 867.5C795.2 868.3 791.1 868.6 784.5 866.3C777.9 864 770.4 859.3 764.6 853.9C758.8 848.5 756.3 846.9 749.7 834C743.1 821.1 733.6 798.1 724.8 776.8C716 755.5 712 744.3 697 706C682 667.7 645.8 576.3 634.8 547.1C623.8 517.9 631.5 535.6 631.1 531C630.7 526.4 630.9 523 632.4 519.4C633.9 515.8 635.8 513.3 639.9 509.4C644 505.5 650.3 501.4 657.3 495.8C664.3 490.2 671.8 483.3 682.1 475.9C692.5 468.4 708 458.2 719.4 451.1C730.8 444 740.3 438.4 750.4 433C760.5 427.6 768.4 425 780 418.5C791.6 412 808.8 400.5 819.8 394.1C830.8 387.7 834.4 385.9 846 380C857.6 374.1 876.2 365.1 889.7 358.4C903.2 351.7 917.3 344.5 927 339.8C936.7 335.1 942.8 332.3 948 330C953.2 327.7 954.9 327.2 958 326.1Z M958 335.4C962.1 333.8 961.9 334.2 964.2 334.2C966.5 334.2 969 334.3 971.7 335.4C974.4 336.5 977 338.2 980.4 341C983.8 343.8 980.8 338.3 991.9 352.1C1003 365.9 1028.4 400 1047 424C1065.6 448 1091.8 480.2 1103.7 496.2C1115.6 512.1 1114 511.7 1118.6 519.7C1123.2 527.8 1128.3 536.6 1131.1 544.5C1133.9 552.4 1134.6 558.2 1135.5 567C1136.4 575.8 1136.8 586 1136.3 597.3C1135.8 608.5 1135 623.3 1132.5 634.5C1130 645.7 1126.6 654.8 1121.4 664.3C1116.2 673.8 1111 682.6 1101.5 691.7C1092 700.8 1078.7 709.1 1064.2 719C1049.7 728.9 1034.4 738.8 1014.5 751.3C994.6 763.8 968.4 780.2 945 794C921.6 807.8 894 824.1 873.9 834C853.8 843.9 836.6 849.7 824.2 853.4C811.8 857.1 806.4 856.4 799.4 856.3C792.4 856.2 787 855.1 782 852.6C777 850.1 773.8 847 769.6 841.4C765.5 835.8 764.6 835.7 757.1 819.1C749.6 802.5 732.8 761 724.8 742C716.8 723 721.9 734.8 709.4 704.8C696.9 674.8 661.1 590 649.8 562C638.5 534 642.5 543.8 641.5 537.1C640.5 530.4 642 525.9 643.6 521.9C645.2 517.9 646.8 516.9 651.1 513.2C655.5 509.5 662.5 504.7 669.7 499.5C676.9 494.3 684.1 489 694.5 482.1C704.9 475.2 720.9 464.9 731.8 458C742.7 451.1 746.2 448.8 760 440.5C773.8 432.2 801.1 416.3 814.4 408.3C827.7 400.3 829.5 398.1 840 392.5C850.5 386.9 865.9 380.2 877.3 374.5C888.7 368.8 897.9 363.6 908.3 358.4C918.6 353.2 931.1 347.3 939.4 343.5C947.7 339.7 953.9 336.9 958 335.4Z" fill="#fff" fill-rule="evenodd" stroke="#000" stroke-width="2"/>
<path d="M1001 345.5C1009.8 356.8 1036 389.9 1054 413C1072 436.1 1099.8 472.2 1109 484" fill="none" stroke="#000" stroke-width="1.16"/>
<path d="M1097 705L1005 765" fill="none" stroke="#000" stroke-width="1.01"/>
<path d="M975 791C962.5 797.3 922.5 818.5 900 829C877.5 839.5 855.3 848.7 840 854C824.7 859.3 813.3 859.8 808 861" fill="none" stroke="#000" stroke-width="1.01"/>
<path d="M786 859C781.7 855.5 767.5 849.5 760 838C752.5 826.5 744.2 798 741 790" fill="none" stroke="#000" stroke-width="1.01"/>
<path d="M1005 767.5L1030 754" fill="none" stroke="#000" stroke-width="1.01"/>
<path d="M1134 540L1141 562" fill="none" stroke="#000" stroke-width="1.01"/>
<path d="M639.3 530.6C639.4 529.8 639 527.7 639.9 525.6C640.8 523.5 642.1 521.2 644.8 518.1C647.5 515 648.3 513.3 656 507C663.7 500.7 685 484.7 690.8 480.2" fill="none" stroke="#000" stroke-width="1.01"/>
<path d="M753 438.5C757.5 436 768.8 430 780 423.5C791.2 417 809 405.8 820 399.5C831 393.2 834.5 391.4 846 385.5C857.5 379.6 875.5 370.7 889 364C902.5 357.3 915.5 351 927 345.5C938.5 340 951.3 333.8 958 331C964.7 328.2 964.2 329.2 967 329C969.8 328.8 972.2 328.7 975 329.5C977.8 330.3 982.5 333.2 984 334" fill="none" stroke="#000" stroke-width="1.01"/>
<path d="M640 545L660 600" fill="none" stroke="#000" stroke-width="1.01"/>
</g>
<g id="p09">
<path d="M703.1 527C705.6 525.1 712.4 518.6 718 515.8C723.6 513 731.1 511.6 736.7 510.2C742.3 508.8 745.4 508.5 751.6 507.4C757.9 506.3 766.9 506 774 503.7C781.2 501.3 786.8 498.2 794.6 493.4C802.4 488.6 811.7 481.6 820.7 474.7C829.8 467.9 839.4 460.1 848.8 452.3C858.1 444.5 872.1 432.1 876.8 428" fill="none" stroke="#000" stroke-width="2.61"/>
<path d="M876.8 428L877.7 419.6L882.4 418.7L894.5 424.3L895.4 433.6L891.7 440.2" fill="none" stroke="#000" stroke-width="2.61"/>
<path d="M805.8 498.4L891.7 436.8" fill="none" stroke="#000" stroke-width="2.03"/>
<path d="M809.5 501.2L891.7 440.5" fill="none" stroke="#000" stroke-width="2.03"/>
<path d="M807.7 499.9L891.7 438.7" fill="none" stroke="#000" stroke-width="1.01"/>
<path d="M701.2 536.3C706.5 534.2 719.3 527.6 733 523.3C746.7 518.9 770.6 514.1 783.4 510.2C796.1 506.3 805.2 501.6 809.5 499.9" fill="none" stroke="#000" stroke-width="1.16"/>
<path d="M701.2 541.9C708.7 539.5 731.1 531.8 746 527C761 522.2 783.4 515.3 790.9 513" fill="none" stroke="#000" stroke-width="1.16"/>
<path d="M699.3 530.7L723.6 517.7" fill="none" stroke="#000" stroke-width="3.19"/>
<path d="M718 516.7L725.5 519.5L719.9 526.1" fill="none" stroke="#000" stroke-width="2.9"/>
<path d="M751.6 507.4L755.4 512.1L746 519.5L744.2 522.3" fill="none" stroke="#000" stroke-width="2.9"/>
<path d="M725.5 519.5L751.6 512.1" fill="none" stroke="#000" stroke-width="1.3"/>
<path d="M783.4 510.2L785.3 506.5L805.8 501.8" fill="none" stroke="#000" stroke-width="1.16"/>
<path d="M892.6 439.2C894.7 442 900.9 450.1 904.8 456C908.7 461.9 913.2 467.9 916 474.7C918.8 481.6 920.4 489.6 921.6 497.1C922.8 504.6 923.5 510.8 923.5 519.5C923.5 528.2 922.2 541.2 921.6 549.4C921 557.7 920 565.8 919.7 569" fill="none" stroke="#000" stroke-width="2.46"/>
<path d="M899.2 448.6L901.1 474.7L916 476.6" fill="none" stroke="#000" stroke-width="1.74"/>
<path d="M904.8 456L904.8 467.2L900.1 474.7" fill="none" stroke="#000" stroke-width="1.3"/>
<path d="M898.2 450.4C897.8 455.1 898.4 469.4 895.4 478.4C892.5 487.5 886.7 494.6 880.5 504.6C874.3 514.6 864.9 527.5 858.1 538.2C851.2 548.9 842.5 563.9 839.4 569" fill="none" stroke="#000" stroke-width="2.46"/>
<path d="M894.5 482.2C891.6 487.2 885.3 498.1 876.8 512.1C868.2 526.1 848.8 557.2 843.2 566.2" fill="none" stroke="#000" stroke-width="1.59"/>
<path d="M833.8 569C836 565.1 842.2 556.4 846.9 545.7C851.6 534.9 858.7 515.5 861.8 504.6C864.9 493.7 864.9 484.4 865.6 480.3" fill="none" stroke="#000" stroke-width="1.16"/>
<path d="M867.4 456L878.6 463.5L884.2 461.6" fill="none" stroke="#000" stroke-width="1.59"/>
<path d="M874.9 454.2C876.1 455.7 880.8 458.8 882.4 463.5C883.9 468.2 884.9 476.6 884.2 482.2C883.6 487.8 879.6 494.6 878.6 497.1" fill="none" stroke="#000" stroke-width="1.45"/>
<path d="M863.7 461.6C865.3 464.4 871.3 472.5 873 478.4C874.7 484.4 874.9 492.9 874 497.1C873 501.3 869.5 503 867.4 503.7C865.4 504.3 864.3 504.4 861.8 500.9C859.3 497.3 854.7 485.8 852.5 482.2C850.3 478.6 849.4 479.8 848.8 479.4" fill="none" stroke="#000" stroke-width="1.3"/>
<path d="M833.8 489.6L843.2 484L846.9 484L852.5 491.5L843.2 497.1Z" fill="none" stroke="#000" stroke-width="1.59"/>
<path d="M843.5 484L844.3 491.5" fill="none" stroke="#000" stroke-width="3.19"/>
<path d="M882.4 508.3L890.8 512.1L893.6 527L888 530.7" fill="none" stroke="#000" stroke-width="1.59"/>
<path d="M878.6 528.9L884.2 519.5L888 512.1" fill="none" stroke="#000" stroke-width="1.16"/>
<path d="M867.4 530.7L874.9 539.1L884.2 534.5L886.1 551.3" fill="none" stroke="#000" stroke-width="2.61"/>
<path d="M867.4 547.5L884.2 537.3" fill="none" stroke="#000" stroke-width="3.77"/>
<path d="M886.1 551.3L897.3 543.8L895.4 530.7" fill="none" stroke="#000" stroke-width="1.74"/>
<path d="M906.7 478.4L912.3 482.2L911.3 497.1L919.7 504.6" fill="none" stroke="#000" stroke-width="1.3"/>
<path d="M895.4 489.6L898.2 504.6L897.3 538.2" fill="none" stroke="#000" stroke-width="1.3"/>
<path d="M900.1 525.1L905.7 519.5" fill="none" stroke="#000" stroke-width="1.45"/>
<path d="M904.8 536.3L921.6 541.9" fill="none" stroke="#000" stroke-width="1.59"/>
<path d="M904.8 536.3L906.7 553.2L914.1 558.8L921.6 549.4" fill="none" stroke="#000" stroke-width="1.74"/>
<path d="M915.1 553.2L916 569" fill="none" stroke="#000" stroke-width="3.19"/>
<path d="M921.6 549.4L925.3 551.3L923.5 569" fill="none" stroke="#000" stroke-width="1.89"/>
<path d="M861.8 569L904.8 545.7" fill="none" stroke="#000" stroke-width="1.45"/>
<path d="M876.8 569L906.7 553.2" fill="none" stroke="#000" stroke-width="1.3"/>
<ellipse cx="801.1" cy="544.7" rx="7" ry="10.3" fill="none" stroke="#000" stroke-width="1.3" transform="rotate(-8 801.1 544.7)"/>
<path d="M802.1 537.3L799.3 544.7L803 544.7L800.2 552.2" fill="none" stroke="#000" stroke-width="2.61"/>
<path d="M729.2 528.9C729.8 532.3 731.4 542.7 733 549.4C734.5 556.1 737.6 565.8 738.6 569" fill="none" stroke="#000" stroke-width="1.16"/>
<path d="M746 528.9C747 530.7 748.8 536 751.6 540.1C754.4 544.1 761 548.3 762.8 553.2C764.7 558 762.8 566.4 762.8 569" fill="none" stroke="#000" stroke-width="1.16"/>
<path d="M706.8 566.2L792.7 512.1" fill="none" stroke="#000" stroke-width="1.16"/>
<path d="M701.2 530.7C708.7 530.4 732.3 532 746 528.9C759.7 525.8 777.2 514.9 783.4 512.1" fill="none" stroke="#000" stroke-width="1.01"/>
<path d="M922.4 530C922.5 533.1 922.8 545.6 923.3 548.7C923.8 551.8 925 545.6 925.2 548.7C925.3 551.8 925 560.5 924.2 567.4C923.5 574.2 923 582.6 920.5 589.8C918 596.9 913.7 604.4 909.3 610.3C904.9 616.2 899.6 620.6 894.4 625.3C889.1 629.9 880.4 636.1 877.5 638.3" fill="none" stroke="#000" stroke-width="2.61"/>
<path d="M916.8 552.4C916.6 554.9 917.1 561.1 915.8 567.4C914.6 573.6 912.3 582.9 909.3 589.8C906.3 596.6 902.5 602.2 898.1 608.4C893.7 614.7 885.6 624 883.2 627.1" fill="none" stroke="#000" stroke-width="1.59"/>
<path d="M916.8 552.4L925.2 548.7" fill="none" stroke="#000" stroke-width="1.74"/>
<path d="M858.9 537.5L836.5 575.8L838.3 581.4L853.3 598.2L857 598.2L903.7 572L903.7 554.3L909.3 552.4" fill="none" stroke="#000" stroke-width="2.9"/>
<path d="M842.1 580.4L857 594.4L901.8 569.2" fill="none" stroke="#000" stroke-width="1.16"/>
<path d="M842.1 580.4L898.1 550.5" fill="none" stroke="#000" stroke-width="1.16"/>
<path d="M843.9 584.2L870.1 573L873.8 576.7L871.9 580.4L849.5 589.8" fill="none" stroke="#000" stroke-width="1.3"/>
<path d="M851.4 530L843.9 546.8L823.4 586" fill="none" stroke="#000" stroke-width="1.74"/>
<path d="M823.4 586L829 594.4L827.1 598.2L744.9 646.7" fill="none" stroke="#000" stroke-width="2.32"/>
<path d="M797.2 615.9L801 608.4L808.4 604.7L806.6 614Z" fill="none" stroke="#000" stroke-width="1.59"/>
<path d="M829 594.4L845.8 604.7L847.7 608.4L855.1 636.5L860.7 640.2" fill="none" stroke="#000" stroke-width="2.03"/>
<path d="M830.9 599.1L842.1 604.7L849.5 630.9L853.3 631.8" fill="none" stroke="#000" stroke-width="1.45"/>
<path d="M827.1 599.1C826.2 601 822.9 605.6 821.5 610.3C820.1 615 819 622.5 818.7 627.1C818.4 631.8 818.6 635.5 819.6 638.3C820.7 641.1 822.8 642.8 825.3 643.9C827.7 645 831.5 645.5 834.6 644.9C837.7 644.2 840.8 642.4 843.9 640.2C847 638 851.7 633.2 853.3 631.8" fill="none" stroke="#000" stroke-width="2.03"/>
<path d="M829 601C828.2 602.8 825.4 607.8 824.3 612.2C823.2 616.5 822.6 622.8 822.5 627.1C822.3 631.5 822.6 635.8 823.4 638.3C824.2 640.8 825.3 641.4 827.1 642.1C829 642.7 832.1 642.7 834.6 642.1C837.1 641.4 840.8 638.9 842.1 638.3" fill="none" stroke="#000" stroke-width="1.3"/>
<path d="M834.6 638.3C834.4 635.8 833.2 627.4 833.7 623.4C834.1 619.3 835.7 616.7 837.4 614C839.1 611.4 842.8 608.6 843.9 607.5" fill="none" stroke="#000" stroke-width="1.3"/>
<path d="M827.1 634.6C827.7 631.8 828.4 622.1 830.9 617.8C833.3 613.4 840.2 610 842.1 608.4" fill="none" stroke="#000" stroke-width="1.3"/>
<path d="M853.3 617.8L855.1 612.2L860.7 610.3L863.5 615L860.7 621.5L855.1 622.5Z" fill="none" stroke="#000" stroke-width="1.89"/>
<path d="M857 613.1L858.9 619.6" fill="none" stroke="#000" stroke-width="3.48"/>
<path d="M860.7 625.3L875.7 617.8L877.5 604.7L881.3 586L898.1 574.8L914 568.3" fill="none" stroke="#000" stroke-width="2.75"/>
<path d="M860.7 625.3L864.5 632.7L877.5 626.2L876.6 617.8" fill="none" stroke="#000" stroke-width="1.89"/>
<path d="M866.3 632.7L905.6 599.1" fill="none" stroke="#000" stroke-width="1.45"/>
<path d="M877.5 637.4L907.4 602.8" fill="none" stroke="#000" stroke-width="3.19"/>
<path d="M905.6 599.1L907.4 602.8" fill="none" stroke="#000" stroke-width="1.45"/>
<path d="M834.6 657L858.9 640.2" fill="none" stroke="#000" stroke-width="1.01"/>
<path d="M855.1 648.6L888.8 629" fill="none" stroke="#000" stroke-width="1.01"/>
<path d="M767.4 675.7L823.4 643.9" fill="none" stroke="#000" stroke-width="1.01"/>
<path d="M770.2 678.5L825.3 646.7" fill="none" stroke="#000" stroke-width="1.01"/>
<path d="M868.2 547.7L885 538.4" fill="none" stroke="#000" stroke-width="3.77"/>
<path d="M885 530L885 550.5L898.1 543.1L896.2 530" fill="none" stroke="#000" stroke-width="1.89"/>
<path d="M867.3 530L877.5 538.4L885 535.6" fill="none" stroke="#000" stroke-width="1.45"/>
<path d="M903.7 554.3L905.6 539.3L916.8 535.6" fill="none" stroke="#000" stroke-width="1.45"/>
<path d="M905.6 539.3L920.5 541.2" fill="none" stroke="#000" stroke-width="1.3"/>
<path d="M903.7 554.3L916.8 561.8L914 568.3" fill="none" stroke="#000" stroke-width="1.45"/>
<path d="M730 552.4L748.7 541.2L767.4 530" fill="none" stroke="#000" stroke-width="1.01"/>
<path d="M748.7 541.2L761.8 554.3L760.8 587.9L730 606.6" fill="none" stroke="#000" stroke-width="1.01"/>
<path d="M730 535.6C731.2 539.3 735.3 550.5 737.5 558C739.6 565.5 739.2 575.4 743.1 580.4C747 585.4 757.9 586.7 760.8 587.9" fill="none" stroke="#000" stroke-width="1.01"/>
<path d="M730 586L760.8 571.1" fill="none" stroke="#000" stroke-width="1.01"/>
</g>
<g id="p10">
<path d="M962.1 352.1C979.5 343.6 993.1 336.4 1004.3 332.2C1015.5 328 1023 327.5 1029.2 326.8C1035.4 326.1 1036.6 325.9 1041.6 327.8C1046.6 329.7 1051.1 331.4 1059 338.4C1066.9 345.3 1078.9 358.5 1088.8 369.5C1098.7 380.5 1109.9 393.5 1118.6 404.3C1127.3 415.1 1135.9 426.5 1141 434.1C1146.1 441.7 1147.7 445.2 1149.3 450C1150.9 454.8 1150.6 458.7 1150.8 463C1151 467.3 1150.7 472.6 1150.2 476C1149.7 479.4 1151.9 478.3 1148 483.5C1144.1 488.7 1135.1 499.8 1127 507C1118.9 514.2 1109.5 519.4 1099.6 527C1089.6 534.6 1077.2 544.9 1067.3 552.4C1057.4 559.9 1053 564 1040 572.3C1027 580.6 1006.4 592.2 989.3 602.1C972.1 612 953.2 623.4 937.1 631.9C921 640.4 908.3 645.7 892.4 653C876.5 660.3 857.2 669.3 841.8 675.8C826.4 682.3 809.8 688.6 800 692C790.2 695.4 788.2 695.7 783 696C777.8 696.3 772.1 694.5 768.5 694C764.9 693.5 764.4 694.6 761.1 693.2C757.8 691.8 752.3 689.2 748.6 685.7C744.9 682.2 741.8 677.6 738.7 672C735.6 666.4 733.2 659.4 730 652.2C726.8 645.1 725.6 644.1 719.3 629.1C713 614.1 697.4 578.1 692 562C686.6 545.9 686.8 539.7 687 532.2C687.2 524.8 689.5 522.1 693.2 517.3C696.9 512.5 695.9 513.3 709.4 503.6C722.9 493.9 751.6 474.3 774 459C796.4 443.7 822.6 424.4 843.6 411.8C864.6 399.2 880.2 393.1 900 383.2C919.8 373.2 944.7 360.6 962.1 352.1Z M962.1 360.8C979.5 352.3 993.9 345 1004.3 340.9C1014.6 336.8 1018.8 336.6 1024.2 336C1029.6 335.4 1032 335.1 1036.6 337.2C1041.2 339.3 1044.5 341.8 1051.6 348.4C1058.6 355 1069 366 1078.9 377C1088.8 388 1102.1 403 1111.2 414.2C1120.3 425.4 1128.9 437.2 1133.5 444C1138.1 450.8 1137.8 451.5 1138.8 455C1139.8 458.5 1139.7 461.5 1139.4 464.8C1139.1 468.1 1141.1 469.6 1136.9 474.8C1132.8 480 1124.4 487.6 1114.5 495.9C1104.6 504.2 1089.7 515.1 1077.3 524.5C1064.9 533.9 1056.3 540.9 1040 552C1023.7 563.1 997.8 579.9 979.4 590.9C961 601.9 944.6 610.4 929.7 618.3C914.8 626.2 900.5 633.1 890 638.3C879.5 643.5 876.7 645.3 866.6 649.7C856.5 654.1 842.9 659 829.4 664.6C815.9 670.2 795.6 679.7 785.9 683.2C776.2 686.7 775.5 686.1 771 685.7C766.5 685.3 762.3 683.4 758.6 680.7C754.9 678 751.7 674.8 748.6 669.6C745.5 664.4 743 657.2 739.9 649.7C736.8 642.2 736.3 639.4 730 624.8C723.7 610.2 707.5 577 702 562C696.5 547 696.8 541.4 696.7 534.7C696.7 528 698.4 526.2 701.7 522C705.1 517.8 701.4 519.6 716.8 509.3C732.2 499 768.6 476.5 793.9 460C819.2 443.5 850.7 421.7 868.4 410.3C886.1 398.9 884.4 400.1 900 391.9C915.6 383.6 944.7 369.3 962.1 360.8Z" fill="#fff" fill-rule="evenodd" stroke="none"/>
<path d="M962.1 352.1C979.5 343.6 993.1 336.4 1004.3 332.2C1015.5 328 1023 327.5 1029.2 326.8C1035.4 326.1 1036.6 325.9 1041.6 327.8C1046.6 329.7 1051.1 331.4 1059 338.4C1066.9 345.3 1078.9 358.5 1088.8 369.5C1098.7 380.5 1109.9 393.5 1118.6 404.3C1127.3 415.1 1135.9 426.5 1141 434.1C1146.1 441.7 1147.7 445.2 1149.3 450C1150.9 454.8 1150.6 458.7 1150.8 463C1151 467.3 1150.7 472.6 1150.2 476C1149.7 479.4 1151.9 478.3 1148 483.5C1144.1 488.7 1135.1 499.8 1127 507C1118.9 514.2 1109.5 519.4 1099.6 527C1089.6 534.6 1077.2 544.9 1067.3 552.4C1057.4 559.9 1053 564 1040 572.3C1027 580.6 1006.4 592.2 989.3 602.1C972.1 612 953.2 623.4 937.1 631.9C921 640.4 908.3 645.7 892.4 653C876.5 660.3 857.2 669.3 841.8 675.8C826.4 682.3 809.8 688.6 800 692C790.2 695.4 788.2 695.7 783 696C777.8 696.3 772.1 694.5 768.5 694C764.9 693.5 764.4 694.6 761.1 693.2C757.8 691.8 752.3 689.2 748.6 685.7C744.9 682.2 741.8 677.6 738.7 672C735.6 666.4 733.2 659.4 730 652.2C726.8 645.1 725.6 644.1 719.3 629.1C713 614.1 697.4 578.1 692 562C686.6 545.9 686.8 539.7 687 532.2C687.2 524.8 689.5 522.1 693.2 517.3C696.9 512.5 695.9 513.3 709.4 503.6C722.9 493.9 751.6 474.3 774 459C796.4 443.7 822.6 424.4 843.6 411.8C864.6 399.2 880.2 393.1 900 383.2C919.8 373.2 944.7 360.6 962.1 352.1Z" fill="none" stroke="#000" stroke-width="2.4"/>
<path d="M962.1 360.8C979.5 352.3 993.9 345 1004.3 340.9C1014.6 336.8 1018.8 336.6 1024.2 336C1029.6 335.4 1032 335.1 1036.6 337.2C1041.2 339.3 1044.5 341.8 1051.6 348.4C1058.6 355 1069 366 1078.9 377C1088.8 388 1102.1 403 1111.2 414.2C1120.3 425.4 1128.9 437.2 1133.5 444C1138.1 450.8 1137.8 451.5 1138.8 455C1139.8 458.5 1139.7 461.5 1139.4 464.8C1139.1 468.1 1141.1 469.6 1136.9 474.8C1132.8 480 1124.4 487.6 1114.5 495.9C1104.6 504.2 1089.7 515.1 1077.3 524.5C1064.9 533.9 1056.3 540.9 1040 552C1023.7 563.1 997.8 579.9 979.4 590.9C961 601.9 944.6 610.4 929.7 618.3C914.8 626.2 900.5 633.1 890 638.3C879.5 643.5 876.7 645.3 866.6 649.7C856.5 654.1 842.9 659 829.4 664.6C815.9 670.2 795.6 679.7 785.9 683.2C776.2 686.7 775.5 686.1 771 685.7C766.5 685.3 762.3 683.4 758.6 680.7C754.9 678 751.7 674.8 748.6 669.6C745.5 664.4 743 657.2 739.9 649.7C736.8 642.2 736.3 639.4 730 624.8C723.7 610.2 707.5 577 702 562C696.5 547 696.8 541.4 696.7 534.7C696.7 528 698.4 526.2 701.7 522C705.1 517.8 701.4 519.6 716.8 509.3C732.2 499 768.6 476.5 793.9 460C819.2 443.5 850.7 421.7 868.4 410.3C886.1 398.9 884.4 400.1 900 391.9C915.6 383.6 944.7 369.3 962.1 360.8Z" fill="none" stroke="#000" stroke-width="1.9"/>
<path d="M1146.8 479.8C1143.5 482.9 1135.7 490.9 1127 498.4C1118.3 505.8 1106.5 515.5 1094.7 524.5C1082.9 533.5 1065.2 545.9 1056.1 552.4C1047 558.9 1052.8 555.9 1040 563.6C1027.2 571.3 997.8 588 979.4 598.4C961 608.8 944.6 618 929.7 625.7C914.8 633.4 900.5 639.8 890 644.6C879.5 649.4 876.7 650.3 866.6 654.7C856.5 659.1 842.9 665.1 829.4 670.8C815.9 676.5 795.6 685.6 785.9 688.8C776.2 692 775.8 690.4 771 690.1C766.2 689.8 761.4 689.2 757.3 687C753.1 684.8 749.4 681.1 746.1 677C742.8 672.9 740.2 668.1 737.5 662.1C734.8 656.1 732.2 646.9 730 641C727.8 635.1 729.5 640.2 724 627C718.5 613.8 702.3 577.5 697 562C691.7 546.5 692.8 538.7 692 534" fill="none" stroke="#000" stroke-width="2.46"/>
<path d="M1133 481C1129.5 484.2 1121.3 492.2 1112 500C1102.7 507.8 1089.3 518.3 1077.3 527.5C1065.3 536.7 1056.3 543.9 1040 555C1023.7 566.1 997.8 583 979.4 594C961 605 944.6 613.4 929.7 621.3C914.8 629.2 906.7 633.6 890 641.3C873.3 649 846.1 660.4 829.4 667.6C812.7 674.8 796.6 681.7 790 684.5" fill="none" stroke="#000" stroke-width="1.01"/>
<path d="M962.1 354.9C969.1 351.6 993.4 339.2 1004.3 335C1015.2 330.8 1021.6 330.4 1027.6 329.7C1033.5 329 1035.2 328.8 1040 330.8C1044.8 332.8 1049 334.8 1056.6 341.6C1064.2 348.5 1075.7 360.9 1085.6 371.9C1095.5 382.9 1107.4 396.6 1116.2 407.5C1125 418.4 1134.9 432.3 1138.6 437.3" fill="none" stroke="#000" stroke-width="1.01"/>
<path d="M962.1 357.7C969.1 354.4 993.6 342 1004.3 337.8C1014.9 333.6 1020.3 333.4 1026 332.7C1031.7 332 1033.7 331.8 1038.4 333.8C1043.1 335.8 1047 338.1 1054.3 344.8C1061.6 351.6 1072.6 363.3 1082.5 374.3C1092.4 385.3 1105 399.6 1113.9 410.6C1122.9 421.6 1132.5 435.4 1136.2 440.4" fill="none" stroke="#000" stroke-width="1.01"/>
<path d="M695.9 518.8C698.5 516.6 697.7 515.3 711.8 505.4C725.9 495.5 757.1 475 780.4 459.3C803.7 443.6 831.6 423.5 851.5 411.3C871.4 399.1 881.6 395.4 900 386C918.4 376.6 951.8 360.1 962.1 354.9" fill="none" stroke="#000" stroke-width="1.01"/>
<path d="M698.6 520.3C701.2 518.1 699.4 517.3 714.1 507.2C728.8 497.1 762.5 475.7 786.7 459.6C810.9 443.5 840.6 422.6 859.5 410.8C878.4 399 882.9 397.7 900 388.8C917.1 379.9 951.8 362.9 962.1 357.7" fill="none" stroke="#000" stroke-width="1.01"/>
<path d="M768.5 694L768.5 701.2L783.4 702.5L799.6 695.7" fill="none" stroke="#000" stroke-width="1.89"/>
<path d="M776 701L786 696L795 696" fill="none" stroke="#000" stroke-width="1.45"/>
</g>
<g id="p20">
<path d="M1204.3 79.1C1204.4 78.6 1202.6 77.6 1204.8 76.1C1207 74.5 1213 71.1 1217.4 69.8C1221.8 68.6 1226.5 68.3 1231.3 68.4C1236.1 68.5 1241.7 69.2 1246.1 70.4C1250.4 71.7 1254.6 74.4 1257.4 76.1C1260.1 77.8 1261.6 78.7 1262.6 80.4C1263.6 82.2 1263.5 83.3 1263.5 86.5C1263.5 89.7 1262.8 97.4 1262.6 99.6" fill="none" stroke="#000" stroke-width="1.94"/>
<path d="M1200.9 81.3C1200.9 84.3 1200.1 95.8 1200.9 99.6C1201.6 103.3 1202.6 102.2 1205.2 103.9C1207.8 105.7 1212.2 108.5 1216.5 110C1220.9 111.5 1226.4 112.8 1231.3 112.8C1236.2 112.8 1241.9 111.3 1246.1 110C1250.3 108.7 1253.8 106.5 1256.5 104.8C1259.3 103 1261.6 100.4 1262.6 99.6" fill="none" stroke="#000" stroke-width="2.05"/>
<path d="M1220.9 111.3L1241.7 111.3" fill="none" stroke="#000" stroke-width="2.81"/>
<path d="M1199.6 93.5C1200.8 94.3 1203.4 97 1207 98.7C1210.5 100.4 1216.8 102.9 1220.9 103.9C1224.9 104.9 1227.8 104.6 1231.3 104.6C1234.8 104.6 1237.5 105 1241.7 103.9C1245.9 102.9 1253.2 99.9 1256.5 98.3C1259.9 96.6 1260.9 94.6 1261.7 93.9" fill="none" stroke="#000" stroke-width="1.0"/>
<path d="M1206.1 104.8C1206.4 106.1 1206.8 110.6 1207.8 112.6C1208.8 114.6 1209.6 115.4 1212.2 117C1214.8 118.5 1218.6 121 1223.5 121.8C1228.4 122.6 1237.2 122.6 1241.7 121.8C1246.2 121 1248.3 118.8 1250.4 117C1252.6 115.1 1253.8 112.9 1254.8 110.9C1255.8 108.8 1256.2 105.8 1256.5 104.8" fill="none" stroke="#000" stroke-width="1.94"/>
<path d="M1214.3 152.7C1214.2 150.8 1214.6 148.1 1215.7 146.6C1216.7 145.1 1219 144.4 1220.9 143.6C1222.8 142.8 1223.2 142.1 1227 141.8C1230.7 141.5 1240 141.2 1243.5 141.8C1247 142.5 1246.5 144.5 1247.8 145.7C1249.1 147 1250.7 147.5 1251.3 149.2C1251.9 151 1251.7 154.4 1251.3 156.2C1250.9 157.9 1250.1 158.5 1248.7 159.7C1247.2 160.8 1244.6 162.3 1242.6 163.1C1240.6 163.9 1238.8 164.2 1236.5 164.4C1234.2 164.7 1231.2 164.8 1228.7 164.4C1226.2 164.1 1223.8 163.3 1221.7 162.3C1219.7 161.2 1217.8 159.5 1216.5 157.9C1215.3 156.3 1214.5 154.6 1214.3 152.7Z" fill="none" stroke="#000" stroke-width="2.05"/>
<path d="M1215.2 158.8C1215.4 159.8 1215.6 163.1 1216.5 164.9C1217.5 166.6 1219 168.1 1220.9 169.2C1222.8 170.3 1225.7 170.9 1227.8 171.4C1230 171.9 1231.6 172.3 1233.9 172.3C1236.2 172.3 1239.4 172 1241.7 171.4C1244.1 170.7 1246.2 169.7 1247.8 168.3C1249.4 167 1250.7 164.7 1251.3 163.1C1251.9 161.5 1251.3 159.5 1251.3 158.8" fill="none" stroke="#000" stroke-width="1.0"/>
<path d="M1213.5 152.3L1205.7 159.7L1205.7 167L1211.3 175.3L1219.1 178.3L1232.2 179.7L1247 177.9L1251.3 176.2L1258.3 168.8L1258.3 159.7L1252.2 153.6" fill="none" stroke="#000" stroke-width="2.05"/>
<path d="M1219.1 157L1222.6 154L1226.1 155.3L1222.6 158.3Z" fill="none" stroke="#000" stroke-width="1.19"/>
<path d="M1226.1 151L1238.3 144" fill="none" stroke="#000" stroke-width="1.19"/>
<path d="M1228.7 156.2L1240.9 148.3" fill="none" stroke="#000" stroke-width="1.19"/>
<path d="M1235.7 144.9L1243.5 146.6" fill="none" stroke="#000" stroke-width="1.19"/>
<path d="M1224.3 153.6L1229.6 155.7" fill="none" stroke="#000" stroke-width="1.19"/>
<path d="M1229.6 149.2L1235.7 152.7" fill="none" stroke="#000" stroke-width="1.19"/>
<path d="M1233.9 146.6L1239.6 150.1" fill="none" stroke="#000" stroke-width="1.19"/>
<path d="M1238.3 144.4L1243.5 143.6" fill="none" stroke="#000" stroke-width="1.19"/>
<path d="M1220 178.8C1220.4 179.9 1221.4 183.9 1222.6 185.7C1223.8 187.6 1225.2 189 1227 190.1C1228.7 191.2 1231.3 192.3 1233 192.3C1234.8 192.3 1235.9 191.3 1237.4 190.1C1238.8 188.9 1240.6 186.8 1241.7 184.9C1242.9 182.9 1243.9 179.4 1244.3 178.3" fill="none" stroke="#000" stroke-width="2.05"/>
<path d="M1222.6 179.7C1223 180.7 1224.1 184.1 1225.2 185.7C1226.4 187.3 1228.8 188.6 1229.6 189.2" fill="none" stroke="#000" stroke-width="1.4"/>
<path d="M1229.6 179.7L1232.2 191.8" fill="none" stroke="#000" stroke-width="1.73"/>
<path d="M1240 179.7L1233 190.1" fill="none" stroke="#000" stroke-width="1.4"/>
<path d="M1233 180.5L1234.8 184.9L1236.5 180.5" fill="none" stroke="#000" stroke-width="2.38"/>
<path d="M1215.2 229.3C1215.5 227.3 1215.3 223.8 1217.4 221.9C1219.5 220 1223.8 218.7 1227.8 218C1231.9 217.3 1237.7 216.6 1241.7 217.6C1245.8 218.6 1250.2 222 1252.2 224.1C1254.1 226.2 1253.8 228.3 1253.5 230.2C1253.2 232.1 1252.1 233.9 1250.4 235.4C1248.8 236.8 1246.1 238.1 1243.5 238.9C1240.9 239.7 1237.7 240.1 1234.8 240.2C1231.9 240.2 1228.7 240 1226.1 239.3C1223.5 238.7 1220.9 237.2 1219.1 236.3C1217.4 235.3 1216.3 234.8 1215.7 233.7C1215 232.5 1214.9 231.3 1215.2 229.3Z" fill="none" stroke="#000" stroke-width="2.05"/>
<path d="M1222.6 239.7C1223.2 240.3 1224.1 242.4 1226.1 243.2C1228.1 244 1232 244.5 1234.8 244.5C1237.5 244.5 1240.4 244 1242.6 243.2C1244.8 242.4 1247 240.3 1247.8 239.7" fill="none" stroke="#000" stroke-width="1.0"/>
<path d="M1224.3 241.5C1226.1 241.7 1231.3 242.9 1234.8 242.8C1238.3 242.7 1243.5 241.3 1245.2 241" fill="none" stroke="#000" stroke-width="1.0"/>
<path d="M1214.8 230.6C1213.9 231.3 1210.8 232.9 1209.6 234.5C1208.3 236.2 1207.4 238.4 1207.4 240.6C1207.4 242.8 1208.5 245.5 1209.6 247.6C1210.7 249.6 1211.7 251.5 1213.9 252.8C1216.1 254.1 1219.1 254.9 1222.6 255.4C1226.1 255.9 1230.7 255.9 1234.8 255.8C1238.8 255.8 1243.6 255.8 1247 255C1250.3 254.2 1252.6 252.6 1254.8 251C1257 249.5 1258.9 247.7 1260 245.8C1261.1 243.9 1261.4 241.6 1261.3 239.7C1261.2 237.9 1260.4 236 1259.1 234.5C1257.9 233 1254.8 231.3 1253.9 230.6" fill="none" stroke="#000" stroke-width="2.05"/>
<path d="M1230.9 227.6C1230.9 228 1230.7 229.5 1231.3 230.2C1232 230.8 1233.6 231.4 1234.8 231.5C1235.9 231.6 1237.6 231.3 1238.3 230.6C1238.9 230 1238.6 228.1 1238.7 227.6" fill="none" stroke="#000" stroke-width="1.0"/>
<path d="M1222.2 255.8C1222.5 256.9 1223.1 260.5 1224.3 262.3C1225.6 264.2 1227.8 265.5 1229.6 266.7C1231.3 267.9 1233.2 269.2 1234.8 269.3C1236.4 269.4 1237.7 268.6 1239.1 267.6C1240.6 266.6 1242.2 265.1 1243.5 263.2C1244.7 261.3 1246 257.4 1246.5 256.3" fill="none" stroke="#000" stroke-width="2.05"/>
<path d="M1224.8 257.1C1225.1 258 1225.7 260.8 1227 262.3C1228.2 263.9 1231.3 266 1232.2 266.7" fill="none" stroke="#000" stroke-width="1.4"/>
<path d="M1232.2 256.3L1234.3 268.4" fill="none" stroke="#000" stroke-width="1.94"/>
<path d="M1241.7 257.1L1235.7 266.7" fill="none" stroke="#000" stroke-width="1.4"/>
<path d="M1234.8 258L1236.5 262.3L1238.3 258" fill="none" stroke="#000" stroke-width="2.38"/>
<path d="M1207.4 288.5L1212.2 282.4L1220.9 278.1L1228.7 276.3L1241.7 276.3L1252.2 279.4L1258.3 283.3L1262.6 288.5L1262.6 300.7L1255.7 309.4L1247 312L1234.8 312.9L1222.6 312L1215.7 310.3L1207.4 302.4Z" fill="none" stroke="#000" stroke-width="2.27"/>
<path d="M1208.7 297.2C1209.6 298.2 1211.6 301.7 1213.9 303.3C1216.2 304.9 1219.1 306 1222.6 306.8C1226.1 307.6 1230.7 308.1 1234.8 308.1C1238.8 308.1 1243.5 307.6 1247 306.8C1250.4 306 1253.2 304.9 1255.7 303.3C1258.1 301.7 1260.7 298.2 1261.7 297.2" fill="none" stroke="#000" stroke-width="1.08"/>
<path d="M1217.4 285C1217.8 282.9 1219 281.9 1220.9 280.7C1222.8 279.5 1225.2 278.5 1228.7 278.1C1232.2 277.7 1238.4 277.7 1241.7 278.1C1245.1 278.5 1247 279.5 1248.7 280.7C1250.4 281.9 1251.6 283 1252.2 285C1252.8 287.1 1253 290.7 1252.2 292.9C1251.3 295 1248.7 296.8 1247 298.1C1245.2 299.4 1243.8 300 1241.7 300.7C1239.7 301.3 1237.1 301.9 1234.8 302C1232.5 302.1 1229.9 302.1 1227.8 301.6C1225.8 301.1 1224.2 300.3 1222.6 299C1221 297.7 1219.1 296.1 1218.3 293.7C1217.4 291.4 1217 287.2 1217.4 285Z" fill="none" stroke="#000" stroke-width="1.94"/>
<path d="M1219.1 289.4C1219.4 290.1 1220 292.7 1220.9 293.7C1221.7 294.8 1223.8 295.2 1224.3 295.5" fill="none" stroke="#000" stroke-width="1.08"/>
<path d="M1240 297.2C1240.9 297.1 1243.5 297.1 1245.2 296.3C1247 295.6 1249.6 293.4 1250.4 292.9" fill="none" stroke="#000" stroke-width="1.08"/>
<path d="M1226.5 288.1L1229.6 289.8L1233.9 286.8L1238.3 289.8L1242.2 288.1" fill="none" stroke="#000" stroke-width="3.24"/>
<path d="M1227 282.4L1230.4 281.6L1229.6 285L1231.3 285.9" fill="none" stroke="#000" stroke-width="1.51"/>
<path d="M1240.9 281.6L1239.6 285L1242.6 283.3" fill="none" stroke="#000" stroke-width="1.51"/>
<path d="M1226.5 318.5L1228.7 324.2L1237.8 324.2L1243 319L1241.7 315.5" fill="none" stroke="#000" stroke-width="2.16"/>
<path d="M1226.5 318.5L1227 314.6" fill="none" stroke="#000" stroke-width="2.16"/>
<path d="M1231.3 321.1L1234.8 322L1238.3 321.1L1240 318.5" fill="none" stroke="#000" stroke-width="1.08"/>
<path d="M1226.5 326.3L1228.7 332L1237.8 332L1243 326.8L1241.7 323.3" fill="none" stroke="#000" stroke-width="2.16"/>
<path d="M1226.5 326.3L1227 322.4" fill="none" stroke="#000" stroke-width="2.16"/>
<path d="M1231.3 329L1234.8 329.8L1238.3 329L1240 326.3" fill="none" stroke="#000" stroke-width="1.08"/>
<path d="M1226.5 333.7L1228.7 339.4L1237.8 339.4L1243 334.2L1241.7 330.7" fill="none" stroke="#000" stroke-width="2.16"/>
<path d="M1226.5 333.7L1227 329.8" fill="none" stroke="#000" stroke-width="2.16"/>
<path d="M1231.3 336.3L1234.8 337.2L1238.3 336.3L1240 333.7" fill="none" stroke="#000" stroke-width="1.08"/>
<path d="M1227 314.6L1241.7 314.6" fill="none" stroke="#000" stroke-width="2.81"/>
<path d="M1240.9 338.1L1234.3 346.3" fill="none" stroke="#000" stroke-width="2.81"/>
<path d="M1195.7 386.9L1227.8 358.2L1230.4 357.7L1259.1 376L1227 406L1219.1 406L1188.7 388.6L1186.5 387.7L1187.8 385.6Z" fill="none" stroke="#000" stroke-width="2.7"/>
<path d="M1189.6 387.7L1220 404.7" fill="none" stroke="#000" stroke-width="1.0"/>
<path d="M1259.1 376L1263.5 376.4L1263.5 388.6L1260.9 392.1L1219.1 416.9L1216.5 416.9L1187.8 399L1187.8 396.4L1192.2 394.3" fill="none" stroke="#000" stroke-width="2.7"/>
<path d="M1259.1 376.4L1260.9 380.8L1261.3 391.2" fill="none" stroke="#000" stroke-width="3.24"/>
<path d="M1227 406L1259.1 379" fill="none" stroke="#000" stroke-width="1.3"/>
<ellipse cx="1224.3" cy="385.6" rx="15.2" ry="11" fill="none" stroke="#000" stroke-width=".9" transform="rotate(-12 1224.3 385.6)"/>
<path d="M1219.1 396L1218.3 382.5L1220 379.9L1224.3 378.6L1227.8 380.3L1227 384.3L1222.6 386L1220.9 388.6L1220 396" fill="none" stroke="#000" stroke-width="1.73"/>
<path d="M1216.5 384.3C1216.5 383.7 1216.2 381.9 1216.5 380.8C1216.8 379.6 1217 378.2 1218.3 377.3C1219.6 376.4 1222.5 375.4 1224.3 375.6C1226.2 375.7 1228.7 377.2 1229.6 378.2C1230.4 379.2 1230 380.6 1229.6 381.7C1229.1 382.7 1227.4 383.8 1227 384.3" fill="none" stroke="#000" stroke-width="1.08"/>
<path d="M1213.5 438.7L1215.7 433L1222.6 428.7L1229.6 425.7L1232.2 424.3L1245.2 424.3L1252.2 427.8L1257.4 431.3L1261.7 436.1L1261.7 445.2L1254.8 453L1247 455.2L1232.2 455.2L1222.6 453L1217.4 448.7L1213.5 441.7Z" fill="none" stroke="#000" stroke-width="2.7"/>
<path d="M1217.4 434.8C1217.2 435.7 1215.9 438.1 1216.5 440C1217.1 441.9 1219 444.5 1220.9 446.1C1222.8 447.7 1225.1 448.8 1227.8 449.6C1230.6 450.4 1234.2 450.9 1237.4 450.9C1240.6 450.9 1244.2 450.5 1247 449.6C1249.7 448.6 1252.2 446.8 1253.9 445.2C1255.7 443.6 1257 441.9 1257.4 440C1257.8 438.1 1256.7 434.9 1256.5 433.9" fill="none" stroke="#000" stroke-width="1.4"/>
<path d="M1220 434.8C1220 435.7 1219.3 438.4 1220 440C1220.7 441.6 1222.2 443.2 1224.3 444.3C1226.5 445.5 1230.1 446.5 1233 447C1235.9 447.4 1238.8 447.4 1241.7 447C1244.6 446.5 1248.1 445.5 1250.4 444.3C1252.8 443.2 1254.8 440.7 1255.7 440" fill="none" stroke="#000" stroke-width="1.08"/>
<path d="M1220 433.9C1221 433 1224.1 430.1 1226.1 428.7C1228.1 427.2 1231.2 425.8 1232.2 425.2" fill="none" stroke="#000" stroke-width="1.73"/>
<path d="M1247 427C1247.8 427.8 1250.6 431 1252.2 432.2C1253.8 433.3 1255.8 433.6 1256.5 433.9" fill="none" stroke="#000" stroke-width="2.59"/>
<path d="M1230.4 427L1233 425.7L1243.5 426.1L1245.7 428.7L1245.2 432.2L1241.7 434.3L1236.5 434.8L1232.2 433L1230.4 430.4Z" fill="none" stroke="#000" stroke-width="2.7"/>
<path d="M1233.9 427.4L1235.7 428.7L1234.8 431.3" fill="none" stroke="#000" stroke-width="1.08"/>
<path d="M1230.4 455.2L1230.4 487L1232.2 491.3L1237.4 493.5L1242.6 491.3L1245.7 487L1245.7 455.2" fill="none" stroke="#000" stroke-width="2.59"/>
<path d="M1231.7 458.3C1232.2 458.6 1233.3 459.9 1234.8 460.2C1236.3 460.5 1239.3 460.5 1240.9 460.2C1242.5 459.9 1243.8 458.6 1244.3 458.3" fill="none" stroke="#000" stroke-width="1.3"/>
<path d="M1231.7 461C1232.2 461.4 1233.3 462.6 1234.8 463C1236.3 463.3 1239.3 463.3 1240.9 463C1242.5 462.6 1243.8 461.4 1244.3 461" fill="none" stroke="#000" stroke-width="1.3"/>
<path d="M1231.7 463.8C1232.2 464.1 1233.3 465.4 1234.8 465.7C1236.3 466.1 1239.3 466.1 1240.9 465.7C1242.5 465.4 1243.8 464.1 1244.3 463.8" fill="none" stroke="#000" stroke-width="1.3"/>
<path d="M1231.7 466.6C1232.2 466.9 1233.3 468.2 1234.8 468.5C1236.3 468.8 1239.3 468.8 1240.9 468.5C1242.5 468.2 1243.8 466.9 1244.3 466.6" fill="none" stroke="#000" stroke-width="1.3"/>
<path d="M1231.7 469.4C1232.2 469.7 1233.3 471 1234.8 471.3C1236.3 471.6 1239.3 471.6 1240.9 471.3C1242.5 471 1243.8 469.7 1244.3 469.4" fill="none" stroke="#000" stroke-width="1.3"/>
<path d="M1231.7 472.2C1232.2 472.5 1233.3 473.8 1234.8 474.1C1236.3 474.4 1239.3 474.4 1240.9 474.1C1242.5 473.8 1243.8 472.5 1244.3 472.2" fill="none" stroke="#000" stroke-width="1.3"/>
<path d="M1231.7 475C1232.2 475.3 1233.3 476.6 1234.8 476.9C1236.3 477.2 1239.3 477.2 1240.9 476.9C1242.5 476.6 1243.8 475.3 1244.3 475" fill="none" stroke="#000" stroke-width="1.3"/>
<path d="M1231.7 477.7C1232.2 478.1 1233.3 479.3 1234.8 479.7C1236.3 480 1239.3 480 1240.9 479.7C1242.5 479.3 1243.8 478.1 1244.3 477.7" fill="none" stroke="#000" stroke-width="1.3"/>
<path d="M1231.7 480.5C1232.2 480.8 1233.3 482.1 1234.8 482.4C1236.3 482.8 1239.3 482.8 1240.9 482.4C1242.5 482.1 1243.8 480.8 1244.3 480.5" fill="none" stroke="#000" stroke-width="1.3"/>
<path d="M1231.7 483.3C1232.2 483.6 1233.3 484.9 1234.8 485.2C1236.3 485.5 1239.3 485.5 1240.9 485.2C1242.5 484.9 1243.8 483.6 1244.3 483.3" fill="none" stroke="#000" stroke-width="1.3"/>
<path d="M1231.7 486.1C1232.2 486.4 1233.3 487.7 1234.8 488C1236.3 488.3 1239.3 488.3 1240.9 488C1242.5 487.7 1243.8 486.4 1244.3 486.1" fill="none" stroke="#000" stroke-width="1.3"/>
<path d="M1231.7 488.9C1232.2 489.2 1233.3 490.5 1234.8 490.8C1236.3 491.1 1239.3 491.1 1240.9 490.8C1242.5 490.5 1243.8 489.2 1244.3 488.9" fill="none" stroke="#000" stroke-width="1.3"/>
<path d="M1231.7 457.4L1244.3 457.4" fill="none" stroke="#000" stroke-width="2.81"/>
<path d="M1211.3 531.8L1215.7 526.2L1222.6 521.8L1227 520.5L1241.7 520.5L1247 522.3L1252.2 527L1256.5 532.7L1256.5 546.2L1252.2 550.5L1246.1 556.6L1241.7 558.3L1226.1 558.3L1221.7 556.6L1215.7 550.5L1211.3 547Z" fill="none" stroke="#000" stroke-width="2.7"/>
<path d="M1212.6 534.4L1220.9 541.8L1223.5 544.4L1241.7 544.4L1246.1 541.8L1254.3 534.4" fill="none" stroke="#000" stroke-width="1.19"/>
<path d="M1215.7 528.3C1215.7 529.3 1214.9 531.8 1216.1 534C1217.2 536.2 1220.8 539.8 1222.6 541.4C1224.4 543 1223.9 543.2 1227 543.6C1230 543.9 1237.5 543.9 1240.9 543.6C1244.2 543.2 1244.9 543 1247 541.4C1249 539.8 1252.3 536.2 1253 534C1253.8 531.8 1251.6 529.3 1251.3 528.3" fill="none" stroke="#000" stroke-width="1.08"/>
<path d="M1223.5 544.4L1223.5 556.2" fill="none" stroke="#000" stroke-width="1.4"/>
<path d="M1245.7 544.4L1245.7 554.9" fill="none" stroke="#000" stroke-width="1.4"/>
<path d="M1220.9 541.8L1222.6 544.4L1226.1 544" fill="none" stroke="#000" stroke-width="1.0"/>
<path d="M1246.1 541.8L1242.6 544" fill="none" stroke="#000" stroke-width="1.0"/>
<path d="M1221.3 532.3L1224.3 527.9L1230.4 525.3L1238.3 525.3L1243.5 527.5L1246.1 531.4L1245.7 534.9L1240.9 538.3L1233.9 539.7L1227 538.3Z" fill="none" stroke="#000" stroke-width="2.16"/>
<path d="M1223.5 532.3C1224.1 531.7 1225.2 529.6 1227 528.8C1228.7 528 1231.6 527.5 1233.9 527.5C1236.2 527.5 1239.1 528 1240.9 528.8C1242.6 529.6 1243.8 531.7 1244.3 532.3" fill="none" stroke="#000" stroke-width="1.08"/>
<path d="M1225.2 534.9C1225.9 534.3 1228 532.1 1229.6 531.4C1231.2 530.7 1232.9 530.4 1234.8 530.5C1236.7 530.6 1239.3 531.2 1240.9 531.8C1242.4 532.5 1243.4 534 1243.9 534.4" fill="none" stroke="#000" stroke-width="1.08"/>
<path d="M1227 536.6C1227.8 536.2 1230.3 534.4 1232.2 534C1234.1 533.6 1236.5 533.7 1238.3 534C1240 534.3 1241.9 535.4 1242.6 535.7" fill="none" stroke="#000" stroke-width="1.3"/>
<path d="M1229.6 537.9C1230.3 537.6 1232.3 536.3 1233.9 536.2C1235.5 536 1238.3 536.9 1239.1 537" fill="none" stroke="#000" stroke-width="1.73"/>
<path d="M1215.7 595L1217.4 610.6L1217.8 628.9L1224.3 631.5L1229.6 636.7L1234.8 638.9L1241.7 635.8L1251.3 629.7L1251.3 605.4L1253.5 594.1" fill="none" stroke="#000" stroke-width="2.7"/>
<path d="M1232.2 604.5L1234.8 637.6" fill="none" stroke="#000" stroke-width="1.08"/>
<path d="M1234.8 604.5L1237.8 636.7" fill="none" stroke="#000" stroke-width="1.08"/>
<path d="M1211.3 587.6L1213.9 585.4L1219.1 584.5L1227 589.3L1227.8 592.3L1234.8 593.2L1240 596.7L1241.7 601L1238.3 602.8L1232.2 603.7L1215.7 595L1211.7 592.3Z" fill="none" stroke="#000" stroke-width="2.7"/>
<path d="M1213 591L1232.2 602.8" fill="none" stroke="#000" stroke-width="1.0"/>
<path d="M1216.5 596.7L1231.3 604.5" fill="none" stroke="#000" stroke-width="1.73"/>
<path d="M1224.8 581.9L1226.1 578.9L1231.3 577.6L1233 575.8L1237.4 575.8L1245.2 581L1247.8 584.1L1256.5 586.7L1256.5 593.2L1253 594.1L1247.8 596.7L1245.2 595.8" fill="none" stroke="#000" stroke-width="2.7"/>
<path d="M1224.8 581.9L1227 585.4L1228.7 589.3" fill="none" stroke="#000" stroke-width="2.38"/>
<path d="M1229.6 579.3L1233.9 584.5L1241.7 586.7L1245.2 588.9" fill="none" stroke="#000" stroke-width="1.08"/>
<path d="M1233.9 584.5L1232.6 593.2" fill="none" stroke="#000" stroke-width="1.08"/>
<path d="M1241.7 586.7L1241.3 601L1241.7 620.2L1243.5 620.6L1246.5 617.6L1246.5 595.8" fill="none" stroke="#000" stroke-width="2.38"/>
<path d="M1243.5 589.7L1250.4 594.1" fill="none" stroke="#000" stroke-width="1.3"/>
<path d="M1241.7 586.7L1244.8 587.6L1243.5 589.7" fill="none" stroke="#000" stroke-width="2.16"/>
<path d="M1186.1 694.2C1187.2 692.2 1189.3 690.3 1193 687.7C1196.8 685 1203.2 681.8 1208.7 678.5C1214.2 675.3 1222 670.1 1226.1 668.1C1230.1 666.1 1230.3 666.6 1233 666.3C1235.8 666.1 1239.1 665.8 1242.6 666.3C1246.1 666.9 1251 668.1 1253.9 669.4C1256.8 670.7 1258.8 672.5 1260 674.2C1261.2 675.8 1261.6 677.7 1261.3 679.4C1261 681.1 1259.9 683.2 1258.3 684.6C1256.6 686.1 1255.4 685.9 1251.3 688.1C1247.2 690.3 1239.6 694.3 1233.9 697.7C1228.3 701 1221 706 1217.4 708.1C1213.8 710.2 1214.5 709.8 1212.2 710.3C1209.9 710.7 1206.1 710.9 1203.5 710.7C1200.9 710.5 1198.8 710 1196.5 709C1194.2 707.9 1191.3 706.2 1189.6 704.6C1187.8 703 1186.7 701.1 1186.1 699.4C1185.5 697.7 1184.9 696.1 1186.1 694.2Z" fill="none" stroke="#000" stroke-width="2.59"/>
<path d="M1187 698.5C1187.5 699.5 1188.7 702.6 1190.4 704.2C1192.2 705.8 1195.2 707.2 1197.4 708.1C1199.6 709 1201 709.5 1203.5 709.7C1205.9 709.8 1209.9 709.6 1212.2 709.1C1214.5 708.7 1213.8 709.1 1217.4 707C1221 705 1228.3 699.9 1233.9 696.6C1239.6 693.3 1247.3 689.2 1251.3 687C1255.3 684.9 1256.7 684.4 1257.8 683.9" fill="none" stroke="#000" stroke-width="2.81"/>
<path d="M1216.5 684.6L1220.9 683.3L1226.1 687.2L1229.6 689L1229.1 691.1L1223.5 691.1L1219.1 688.1Z" fill="#000" stroke="#000" stroke-width="1.51"/>
<circle cx="1200" cy="697.2" r="4.6" fill="#fff" stroke="#000" stroke-width="2.2"/><circle cx="1200.5" cy="697.2" r="1.2" fill="#000"/>
<circle cx="1246.1" cy="669.8" r="4.6" fill="#fff" stroke="#000" stroke-width="2.2"/><circle cx="1246.6" cy="669.8" r="1.2" fill="#000"/>
<ellipse cx="1223.9" cy="761.2" rx="37.2" ry="22.4" fill="#fff" stroke="#000" stroke-width="2"/>
<path d="M1189.6 771.7C1190.7 772.5 1193.3 775.2 1196.5 776.9C1199.7 778.5 1204.6 780.6 1208.7 781.7C1212.8 782.7 1216.5 783.1 1220.9 783.4C1225.2 783.6 1230.4 783.7 1234.8 783.1C1239.1 782.6 1243.6 781.2 1247 779.9C1250.3 778.6 1253.5 775.9 1254.8 775.1" fill="none" stroke="#000" stroke-width="3.24"/>
<path d="M1195.2 776L1193.5 780.3L1197.4 784.7L1204.3 790.3L1205.2 782.1" fill="none" stroke="#000" stroke-width="1.94"/>
<path d="M1199.1 779.5L1197.4 783.8" fill="none" stroke="#000" stroke-width="1.3"/>
<path d="M1201.7 780.8L1200 784.7L1203.5 788.2" fill="none" stroke="#000" stroke-width="1.3"/>
<path d="M1109.3 812.8C1109.9 810.3 1110.7 806.5 1113 804.4C1115.3 802.4 1119.7 801.2 1123.1 800.3C1126.4 799.3 1129.8 798.7 1133.1 798.6C1136.5 798.4 1139.9 798.4 1143.2 799.4C1146.6 800.4 1151 802.5 1153.3 804.4C1155.5 806.4 1156.1 808.6 1156.6 811.2C1157.2 813.7 1157.2 817.3 1156.6 819.5C1156.1 821.8 1155.5 822.9 1153.3 824.6C1151 826.2 1146.6 828.5 1143.2 829.6C1139.9 830.7 1136.5 831.3 1133.1 831.3C1129.8 831.3 1126.4 830.7 1123.1 829.6C1119.7 828.5 1115.3 826.2 1113 824.6C1110.7 822.9 1109.9 821.5 1109.3 819.5C1108.7 817.6 1108.7 815.3 1109.3 812.8Z" fill="none" stroke="#000" stroke-width="2.05"/>
<path d="M1113 824.6L1119.7 832.1L1122.2 834.6" fill="none" stroke="#000" stroke-width="1.94"/>
<path d="M1153.3 824.6L1146.6 832.1L1144 834.6" fill="none" stroke="#000" stroke-width="1.94"/>
<path d="M1118.9 830.4C1121.3 831 1128.4 833.8 1133.1 833.8C1137.9 833.8 1145 831 1147.4 830.4" fill="none" stroke="#000" stroke-width="2.59"/>
<path d="M1122.2 834.6L1122.2 856.4L1126.4 860.6L1133.1 861.8L1139.9 860.6L1143.2 856.4L1143.2 834.6" fill="none" stroke="#000" stroke-width="2.05"/>
<path d="M1123.1 836.3C1123.9 836.5 1125.6 837.1 1128.1 837.3C1130.6 837.5 1135.7 837.5 1138.2 837.3C1140.6 837.1 1142.1 836.5 1142.9 836.3" fill="none" stroke="#000" stroke-width="1.0"/>
<path d="M1123.1 838.7C1123.9 838.8 1125.6 839.5 1128.1 839.7C1130.6 839.8 1135.7 839.8 1138.2 839.7C1140.6 839.5 1142.1 838.8 1142.9 838.7" fill="none" stroke="#000" stroke-width="1.0"/>
<path d="M1123.1 841C1123.9 841.2 1125.6 841.8 1128.1 842C1130.6 842.2 1135.7 842.2 1138.2 842C1140.6 841.8 1142.1 841.2 1142.9 841" fill="none" stroke="#000" stroke-width="1.0"/>
<path d="M1123.1 843.4C1123.9 843.5 1125.6 844.2 1128.1 844.4C1130.6 844.5 1135.7 844.5 1138.2 844.4C1140.6 844.2 1142.1 843.5 1142.9 843.4" fill="none" stroke="#000" stroke-width="1.0"/>
<path d="M1123.1 845.7C1123.9 845.9 1125.6 846.5 1128.1 846.7C1130.6 846.9 1135.7 846.9 1138.2 846.7C1140.6 846.5 1142.1 845.9 1142.9 845.7" fill="none" stroke="#000" stroke-width="1.0"/>
<path d="M1123.1 848C1123.9 848.2 1125.6 848.9 1128.1 849.1C1130.6 849.2 1135.7 849.2 1138.2 849.1C1140.6 848.9 1142.1 848.2 1142.9 848" fill="none" stroke="#000" stroke-width="1.0"/>
<path d="M1123.1 850.4C1123.9 850.6 1125.6 851.2 1128.1 851.4C1130.6 851.6 1135.7 851.6 1138.2 851.4C1140.6 851.2 1142.1 850.6 1142.9 850.4" fill="none" stroke="#000" stroke-width="1.0"/>
<path d="M1123.1 852.7C1123.9 852.9 1125.6 853.6 1128.1 853.8C1130.6 853.9 1135.7 853.9 1138.2 853.8C1140.6 853.6 1142.1 852.9 1142.9 852.7" fill="none" stroke="#000" stroke-width="1.0"/>
<path d="M1123.1 855.1C1123.9 855.3 1125.6 855.9 1128.1 856.1C1130.6 856.3 1135.7 856.3 1138.2 856.1C1140.6 855.9 1142.1 855.3 1142.9 855.1" fill="none" stroke="#000" stroke-width="1.0"/>
<path d="M1123.1 857.4C1123.9 857.6 1125.6 858.3 1128.1 858.4C1130.6 858.6 1135.7 858.6 1138.2 858.4C1140.6 858.3 1142.1 857.6 1142.9 857.4" fill="none" stroke="#000" stroke-width="1.0"/>
<ellipse cx="1133.1" cy="812" rx="9.6" ry="5.2" fill="#fff" stroke="#000" stroke-width="2"/>
<path d="M1127.3 812.8L1130.6 809.5L1136.5 809.5L1139.9 812L1136.5 815.3L1130.6 815.3Z" fill="none" stroke="#000" stroke-width="1.0"/>
<path d="M1170 830.4L1185.1 822.1L1231.2 848.9L1261.9 832.1L1261.9 843L1231.2 859.8L1185.1 833.8L1170 840.5Z" fill="#000" stroke="#000" stroke-width="1.08"/>
<path d="M1170 797.4L1228.7 797.4L1213.6 806.1L1261.9 832.1L1231.2 848.9L1185.1 822.1L1170 830.4Z" fill="#fff" stroke="#000" stroke-width="1.51"/>
<path d="M1213.6 806.1L1228.7 797.4L1228.7 808.6L1224.5 811.5Z" fill="#000" stroke="#000" stroke-width="1.08"/>
</g>
</svg>
</body></html>
